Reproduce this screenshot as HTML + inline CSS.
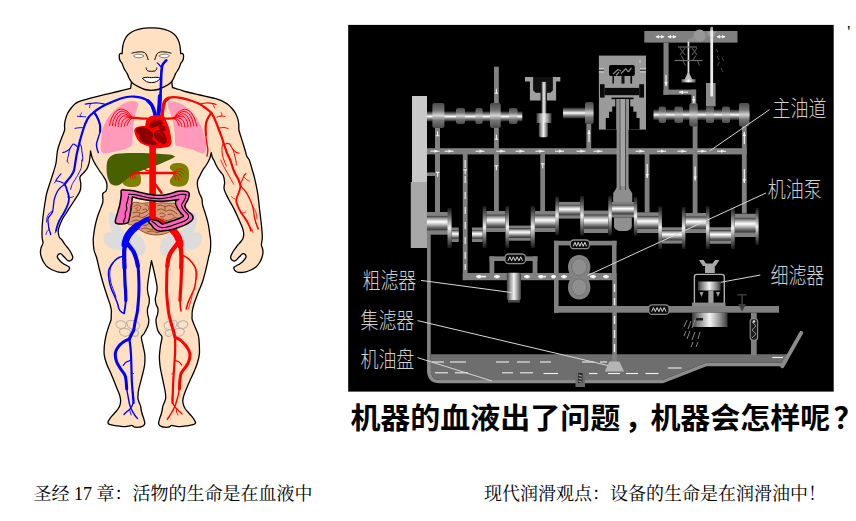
<!DOCTYPE html>
<html lang="zh"><head><meta charset="utf-8"><title>润滑</title>
<style>
html,body{margin:0;padding:0;background:#fff;overflow:hidden}
svg{display:block}
.t1{font-family:"Liberation Sans","Noto Sans CJK SC",sans-serif;font-weight:bold;font-size:30px;fill:#000}
.t2{font-family:"Liberation Serif","Noto Serif CJK SC",serif;font-size:18px;fill:#000}
.lb{font-family:"Liberation Sans","Noto Sans CJK SC",sans-serif;font-size:18px;fill:#d0d0d0;font-weight:300}
</style></head><body>
<svg width="856" height="521" viewBox="0 0 856 521">
<rect width="856" height="521" fill="#fff"/>
<g id="human">
<path d="M131.8,80.0C131.6,81.4 130.8,86.9 130.6,88.3C128.5,88.8 122.4,90.4 118.0,91.5C113.6,92.6 110.3,93.2 104.3,94.7C98.3,96.2 86.6,99.2 81.8,100.7C77.0,102.2 77.2,102.3 75.5,103.5C73.8,104.7 72.8,105.9 71.5,107.6C70.2,109.3 68.5,111.5 67.5,113.5C66.5,115.5 65.9,117.8 65.4,119.7C64.9,121.6 64.6,123.3 64.5,125.0C64.4,126.7 65.0,128.0 64.6,130.0C64.2,132.0 62.9,134.7 62.0,137.0C61.1,139.3 60.1,141.8 59.4,144.0C58.7,146.2 58.0,148.0 57.6,150.0C57.2,152.0 57.1,153.8 56.8,156.0C56.5,158.2 56.5,160.3 56.0,163.0C55.5,165.7 54.4,169.1 53.5,172.0C52.6,174.9 51.6,178.0 50.7,180.7C49.8,183.4 49.0,185.7 48.3,188.0C47.6,190.3 47.0,191.6 46.4,194.6C45.8,197.6 45.1,202.3 44.5,206.0C43.9,209.7 43.4,213.7 43.0,217.0C42.6,220.3 42.4,223.1 42.2,226.0C42.0,228.9 42.0,232.1 42.0,234.3C42.0,236.5 42.1,237.6 42.3,239.0C42.5,240.4 43.2,241.6 43.0,243.0C42.8,244.4 41.6,246.0 41.2,247.5C40.8,249.0 40.4,250.3 40.4,252.0C40.4,253.7 40.9,255.8 41.5,257.5C42.1,259.2 42.8,260.9 43.8,262.5C44.8,264.1 46.0,265.8 47.5,267.0C49.0,268.2 50.8,269.2 52.5,270.0C54.2,270.8 55.8,271.4 57.5,271.8C59.2,272.2 61.3,272.5 62.8,272.5C64.3,272.5 65.5,272.4 66.5,272.0C67.5,271.6 68.5,270.3 68.9,270.0C69.0,269.7 69.6,268.7 69.6,268.2C69.6,267.7 69.5,267.3 68.9,266.8C68.4,266.3 67.2,265.8 66.3,265.3C65.4,264.8 64.6,264.6 63.7,264.0C62.8,263.4 61.7,262.6 60.8,261.8C59.9,261.0 59.1,259.8 58.5,259.0C57.9,258.2 57.5,257.8 57.4,257.2C57.2,256.6 57.3,256.1 57.6,255.5C57.9,254.9 58.6,254.2 59.2,253.9C59.8,253.6 60.2,253.3 61.0,253.8C61.8,254.3 63.0,255.8 64.0,256.8C65.0,257.8 66.5,259.5 67.0,260.0C67.4,260.2 68.5,261.0 69.3,261.0C70.0,261.0 70.9,260.5 71.5,260.0C72.1,259.5 72.6,258.6 72.7,257.8C72.8,257.1 72.8,256.6 72.3,255.5C71.8,254.4 70.9,252.4 70.0,251.0C69.1,249.6 67.9,248.2 67.0,247.0C66.1,245.8 65.4,245.2 64.6,244.0C63.8,242.8 62.9,241.1 62.0,240.0C61.1,238.9 60.1,238.5 59.5,237.5C58.9,236.5 58.7,235.4 58.5,234.0C58.3,232.6 57.9,231.3 58.5,229.0C59.1,226.7 60.6,222.9 62.0,220.0C63.4,217.1 65.0,215.0 67.0,211.8C69.0,208.6 71.8,204.5 74.0,201.0C76.2,197.5 78.9,193.8 80.0,191.0C81.1,188.2 80.8,186.3 80.8,184.0C80.8,181.7 79.5,178.9 80.0,177.0C80.5,175.1 82.8,173.9 84.0,172.5C85.2,171.1 86.2,170.0 87.0,168.6C87.8,167.2 88.4,165.4 88.8,164.0C89.2,162.6 89.4,161.5 89.6,160.0C89.8,158.5 90.0,156.5 90.2,155.0C90.4,153.5 90.5,151.6 90.5,150.9C90.7,151.7 91.1,154.0 91.5,155.5C91.9,157.0 92.3,158.4 93.0,160.0C93.7,161.6 94.8,163.3 95.8,165.0C96.8,166.7 97.8,168.2 99.0,170.0C100.2,171.8 101.6,173.7 102.8,175.5C104.0,177.3 105.3,178.9 106.0,180.7C106.7,182.4 107.0,184.3 107.0,186.0C107.0,187.7 106.6,189.9 106.0,191.0C105.4,192.1 104.1,192.2 103.5,192.8C102.9,193.4 102.7,193.6 102.6,194.6C102.5,195.6 102.9,197.6 102.9,199.0C102.9,200.4 103.1,201.2 102.6,203.0C102.1,204.8 100.9,207.7 100.0,210.0C99.1,212.3 98.2,214.5 97.4,217.0C96.6,219.5 95.9,222.4 95.3,225.0C94.7,227.6 94.3,230.1 94.0,232.6C93.7,235.1 93.2,237.1 93.2,240.0C93.2,242.9 93.5,247.1 94.0,250.0C94.5,252.9 95.6,254.1 96.5,257.3C97.4,260.5 98.3,265.0 99.3,269.0C100.3,273.0 101.4,277.3 102.6,281.5C103.8,285.7 105.2,290.0 106.5,294.0C107.8,298.0 109.6,302.9 110.4,305.7C111.2,308.5 111.3,309.3 111.4,311.0C111.5,312.7 111.3,314.5 111.2,316.0C111.1,317.5 111.5,318.0 111.0,320.0C110.5,322.0 109.0,325.4 108.2,328.0C107.4,330.6 106.6,332.8 106.0,335.6C105.4,338.4 104.7,341.8 104.4,345.0C104.1,348.2 103.9,351.5 104.2,354.6C104.5,357.7 105.5,360.6 106.5,363.5C107.5,366.4 109.0,369.0 110.2,371.8C111.4,374.6 112.6,377.6 113.8,380.5C115.0,383.4 116.2,386.6 117.2,389.0C118.2,391.4 119.0,393.1 119.6,395.0C120.2,396.9 120.5,398.7 120.6,400.4C120.7,402.1 120.4,403.6 120.0,405.0C119.6,406.4 118.8,407.8 118.0,409.0C117.2,410.2 116.4,411.0 115.5,412.0C114.6,413.0 113.7,413.9 112.8,415.0C111.9,416.1 110.8,417.3 110.0,418.5C109.2,419.7 108.2,421.1 108.0,422.0C107.8,422.9 108.2,423.4 108.6,423.8C109.0,424.2 108.9,424.3 110.2,424.6C111.5,424.9 114.3,425.5 116.5,425.8C118.7,426.1 121.3,426.5 123.2,426.6C125.1,426.7 126.4,426.4 127.8,426.2C129.2,426.0 130.9,425.3 131.8,425.4C132.8,425.4 132.9,426.2 133.5,426.5C134.1,426.8 134.4,427.1 135.3,427.2C136.2,427.3 137.8,427.3 139.0,427.2C140.2,427.1 141.3,426.7 142.2,426.3C143.1,425.9 143.8,425.4 144.2,424.8C144.6,424.2 144.9,423.9 144.8,422.8C144.7,421.8 144.1,419.9 143.7,418.5C143.3,417.1 142.6,415.6 142.2,414.2C141.8,412.8 141.5,411.4 141.2,410.0C140.9,408.6 140.9,406.9 140.5,405.6C140.1,404.3 139.4,403.2 139.0,402.0C138.6,400.8 138.2,399.9 138.0,398.6C137.8,397.3 138.0,395.6 138.1,394.0C138.2,392.4 138.2,391.6 138.8,389.0C139.4,386.4 140.6,381.9 141.5,378.5C142.4,375.1 143.4,371.2 144.0,368.4C144.6,365.6 144.8,363.8 144.9,361.5C145.0,359.2 145.1,357.3 144.8,354.6C144.5,351.9 143.6,348.4 143.0,345.5C142.4,342.6 141.3,339.2 141.4,337.3C141.5,335.4 143.0,335.2 143.8,334.0C144.6,332.8 145.3,331.5 146.0,330.0C146.7,328.5 147.7,326.8 148.2,325.0C148.7,323.2 148.9,321.3 148.8,319.5C148.7,317.7 147.8,315.8 147.6,314.0C147.4,312.2 147.3,310.7 147.5,309.0C147.7,307.3 148.7,305.7 149.0,304.0C149.3,302.3 149.5,300.7 149.3,298.8C149.1,296.9 148.1,294.5 147.8,292.5C147.5,290.5 147.3,289.8 147.5,286.7C147.7,283.6 148.5,278.3 149.2,274.0C149.9,269.7 151.1,262.9 151.5,260.7C152.0,262.9 153.7,269.7 154.6,274.0C155.5,278.3 156.7,283.6 157.0,286.7C157.3,289.8 156.9,290.5 156.6,292.5C156.3,294.5 155.4,296.9 155.3,298.8C155.2,300.7 155.6,302.3 156.0,304.0C156.4,305.7 157.7,307.3 158.0,309.0C158.3,310.7 157.9,312.2 157.6,314.0C157.3,315.8 156.2,317.7 156.0,319.5C155.8,321.3 156.2,323.2 156.5,325.0C156.8,326.8 157.2,328.9 157.8,330.4C158.4,331.9 159.3,332.9 160.0,334.0C160.7,335.1 161.9,335.4 162.0,337.3C162.1,339.2 160.9,342.6 160.5,345.5C160.1,348.4 159.7,351.9 159.5,354.6C159.3,357.3 159.4,359.2 159.6,361.5C159.8,363.8 159.9,365.6 160.4,368.4C160.9,371.2 161.8,375.1 162.5,378.5C163.2,381.9 164.2,386.4 164.7,389.0C165.2,391.6 165.3,392.4 165.5,394.0C165.7,395.6 165.8,397.3 165.6,398.6C165.4,399.9 164.9,400.8 164.5,402.0C164.1,403.2 163.4,404.3 163.0,405.6C162.6,406.9 162.5,408.6 162.2,410.0C161.9,411.4 161.6,412.8 161.2,414.2C160.8,415.6 160.1,417.1 159.7,418.5C159.3,419.9 158.7,421.8 158.6,422.8C158.5,423.9 158.8,424.2 159.2,424.8C159.6,425.4 160.3,425.9 161.2,426.3C162.1,426.7 163.3,427.1 164.5,427.2C165.7,427.3 167.2,427.3 168.1,427.2C169.0,427.1 169.4,426.8 170.0,426.5C170.6,426.2 170.7,425.4 171.6,425.4C172.5,425.3 174.3,426.0 175.7,426.2C177.1,426.4 178.3,426.7 180.2,426.6C182.1,426.5 184.8,426.1 187.0,425.8C189.2,425.5 191.9,424.9 193.2,424.6C194.5,424.3 194.5,424.2 194.9,423.8C195.3,423.4 195.8,422.9 195.5,422.0C195.2,421.1 194.2,419.7 193.4,418.5C192.6,417.3 191.5,416.1 190.6,415.0C189.7,413.9 188.9,413.0 188.0,412.0C187.1,411.0 186.2,410.2 185.4,409.0C184.7,407.8 183.9,406.4 183.5,405.0C183.1,403.6 182.7,402.1 182.8,400.4C182.9,398.7 183.4,396.9 184.0,395.0C184.6,393.1 185.3,391.4 186.3,389.0C187.3,386.6 188.7,383.4 190.0,380.5C191.3,377.6 192.8,374.6 194.0,371.8C195.2,369.0 196.3,366.4 197.2,363.5C198.1,360.6 199.0,357.7 199.3,354.6C199.7,351.5 199.5,348.2 199.3,345.0C199.2,341.8 199.0,338.4 198.4,335.6C197.8,332.8 196.5,330.6 195.5,328.0C194.5,325.4 192.9,322.0 192.3,320.0C191.7,318.0 192.1,317.5 192.1,316.0C192.1,314.5 192.0,313.0 192.3,311.0C192.6,309.0 193.1,307.0 194.0,304.0C194.9,301.0 196.6,296.8 198.0,293.0C199.4,289.2 201.3,285.5 202.6,281.5C203.9,277.5 205.0,273.0 206.0,269.0C207.0,265.0 207.9,260.5 208.6,257.3C209.3,254.1 210.1,252.9 210.4,250.0C210.7,247.1 210.7,242.6 210.6,240.0C210.5,237.4 210.1,236.6 209.8,234.3C209.5,232.0 209.1,228.6 208.6,226.0C208.1,223.4 207.6,221.3 206.9,218.8C206.2,216.3 205.2,213.3 204.5,211.0C203.8,208.7 203.0,206.7 202.6,205.0C202.2,203.3 202.3,202.2 202.2,201.0C202.0,199.8 202.1,199.2 201.7,198.0C201.2,196.8 200.1,194.9 199.5,193.5C198.9,192.1 198.7,190.8 198.3,189.4C198.0,188.0 197.5,186.4 197.4,185.0C197.3,183.6 197.2,182.3 197.6,180.7C198.0,179.1 199.2,177.2 200.0,175.5C200.8,173.8 201.6,172.1 202.6,170.4C203.6,168.7 205.0,167.1 206.0,165.5C207.0,163.9 207.9,162.4 208.6,161.0C209.3,159.6 209.8,158.4 210.2,157.0C210.6,155.6 211.0,153.3 211.2,152.6C211.4,153.3 211.8,155.8 212.2,157.0C212.6,158.2 213.2,158.8 213.8,160.0C214.4,161.2 215.1,163.1 215.8,164.5C216.5,165.9 217.3,167.3 218.1,168.6C218.9,169.8 219.7,170.8 220.6,172.0C221.5,173.2 222.6,173.9 223.3,175.6C224.0,177.3 224.4,179.7 224.6,182.0C224.8,184.3 223.5,186.6 224.2,189.4C224.8,192.2 226.9,195.8 228.5,199.0C230.1,202.2 232.1,205.2 233.7,208.4C235.3,211.6 236.8,214.8 238.2,218.0C239.6,221.2 241.4,225.0 242.3,227.4C243.2,229.8 243.4,230.8 243.6,232.5C243.8,234.2 243.6,236.3 243.2,237.8C242.8,239.3 241.9,240.3 241.0,241.5C240.1,242.7 238.8,243.8 238.0,244.7C237.2,245.6 237.2,245.9 236.4,247.0C235.6,248.1 234.3,249.6 233.4,251.0C232.5,252.4 231.6,254.4 231.1,255.5C230.6,256.6 230.6,257.1 230.7,257.8C230.8,258.6 231.3,259.5 231.9,260.0C232.5,260.5 233.3,261.0 234.1,261.0C234.8,261.0 236.0,260.2 236.4,260.0C236.9,259.5 238.4,257.8 239.4,256.8C240.4,255.8 241.6,254.3 242.4,253.8C243.2,253.3 243.6,253.6 244.2,253.9C244.8,254.2 245.5,254.9 245.8,255.5C246.1,256.1 246.2,256.6 246.0,257.2C245.8,257.8 245.5,258.2 244.9,259.0C244.3,259.8 243.5,261.0 242.6,261.8C241.7,262.6 240.6,263.4 239.7,264.0C238.8,264.6 238.0,264.8 237.1,265.3C236.2,265.8 235.1,266.3 234.5,266.8C233.9,267.3 233.8,267.7 233.8,268.2C233.8,268.7 234.4,269.7 234.5,270.0C234.9,270.3 235.9,271.6 236.9,272.0C237.9,272.4 239.1,272.5 240.6,272.5C242.1,272.5 244.2,272.2 245.9,271.8C247.6,271.4 249.2,270.8 250.9,270.0C252.6,269.2 254.4,268.2 255.9,267.0C257.4,265.8 258.6,264.1 259.6,262.5C260.6,260.9 261.3,259.2 261.9,257.5C262.5,255.8 262.9,253.7 263.0,252.0C263.1,250.3 262.5,248.7 262.2,247.5C261.9,246.3 261.4,246.1 261.4,244.7C261.4,243.3 262.1,240.7 262.2,239.0C262.3,237.3 262.3,236.5 262.2,234.3C262.1,232.1 261.8,228.9 261.5,226.0C261.2,223.1 260.9,220.3 260.5,217.0C260.1,213.7 259.6,209.7 259.2,206.0C258.8,202.3 258.4,197.9 257.9,194.6C257.4,191.3 256.9,188.9 256.3,186.0C255.7,183.1 255.1,180.1 254.4,177.3C253.7,174.5 252.8,171.9 252.0,169.0C251.2,166.1 250.0,161.8 249.3,160.0C248.6,158.2 248.2,158.7 247.8,158.0C247.4,157.3 247.2,157.3 246.7,156.0C246.2,154.7 245.6,152.0 245.0,150.0C244.4,148.0 243.9,146.2 243.2,144.0C242.5,141.8 241.7,139.3 241.0,137.0C240.3,134.7 239.3,132.0 238.9,130.0C238.5,128.0 239.0,126.7 238.8,125.0C238.7,123.3 238.5,121.6 238.0,119.7C237.5,117.8 236.6,115.4 235.6,113.5C234.6,111.6 233.3,110.0 232.0,108.5C230.7,107.0 229.4,105.7 228.0,104.5C226.6,103.3 225.0,102.5 223.3,101.6C221.6,100.7 219.7,99.9 218.0,99.3C216.3,98.7 216.0,98.7 213.0,98.0C210.0,97.3 204.3,96.0 200.0,95.0C195.7,94.0 190.5,92.9 187.0,92.0C183.5,91.1 181.4,90.2 179.0,89.5C176.6,88.8 173.6,87.8 172.5,87.5C172.3,86.2 171.8,81.2 171.6,80.0Z" fill="#FFE0C0" stroke="#000" stroke-width="1.3" stroke-linejoin="round"/>
<path d="M151.4,27.8C152.8,27.9 157.2,27.9 160.0,28.3C162.8,28.8 165.6,29.5 168.0,30.5C170.4,31.5 172.8,33.0 174.5,34.5C176.2,36.0 177.1,37.6 178.0,39.5C178.9,41.4 179.6,43.6 180.0,46.0C180.4,48.4 180.6,52.4 180.7,53.7C181.0,53.7 182.1,53.2 182.6,53.6C183.1,54.0 183.6,55.1 183.6,56.3C183.6,57.4 183.3,59.3 182.8,60.5C182.3,61.7 181.0,62.9 180.7,63.4C180.4,64.2 179.7,66.8 178.8,68.5C178.0,70.2 176.5,71.9 175.6,73.6C174.7,75.3 174.3,77.2 173.4,78.8C172.5,80.4 171.9,81.7 170.4,83.0C168.9,84.3 166.6,85.6 164.5,86.7C162.4,87.8 160.2,88.9 158.0,89.5C155.8,90.1 153.6,90.3 151.4,90.3C149.2,90.3 147.0,90.1 144.8,89.5C142.6,88.9 140.4,87.8 138.3,86.7C136.2,85.6 133.9,84.3 132.4,83.0C130.9,81.7 130.3,80.4 129.4,78.8C128.5,77.2 128.1,75.3 127.2,73.6C126.3,71.9 124.8,70.2 124.0,68.5C123.2,66.8 122.4,64.2 122.1,63.4C121.8,62.9 120.5,61.7 120.0,60.5C119.5,59.3 119.2,57.4 119.2,56.3C119.2,55.1 119.7,54.0 120.2,53.6C120.7,53.2 121.8,53.7 122.1,53.7C122.2,52.4 122.3,48.4 122.8,46.0C123.2,43.6 123.9,41.4 124.8,39.5C125.7,37.6 126.6,36.0 128.3,34.5C130.0,33.0 132.4,31.5 134.8,30.5C137.2,29.5 140.0,28.8 142.8,28.3C145.6,27.9 150.0,27.9 151.4,27.8Z" fill="#FFE0C0" stroke="#000" stroke-width="1.3" stroke-linejoin="round"/>
<path d="M131.5,53.3C132.2,53.1 134.0,52.5 135.5,52.3C137.0,52.0 139.0,51.8 140.5,51.8C142.0,51.8 143.5,52.1 144.5,52.6C145.5,53.1 145.9,53.8 146.5,55.0C147.1,56.2 148.0,59.2 148.3,60.0" fill="none" stroke="#000" stroke-width="1"/>
<path d="M133.5,55.8C133.5,55.3 135.3,54.5 136.5,54.3C137.7,54.1 139.2,54.1 140.5,54.4C141.8,54.7 144.0,55.5 144.0,56.0C144.0,56.5 141.8,57.4 140.5,57.6C139.2,57.9 137.7,57.8 136.5,57.5C135.3,57.2 133.5,56.3 133.5,55.8Z" fill="#fff" stroke="#444" stroke-width="0.7"/>
<path d="M171.5,53.3C170.8,53.1 169.0,52.5 167.5,52.3C166.0,52.0 164.0,51.8 162.5,51.8C161.0,51.8 159.5,52.1 158.5,52.6C157.5,53.1 157.1,53.8 156.5,55.0C155.9,56.2 155.0,59.2 154.7,60.0" fill="none" stroke="#000" stroke-width="1"/>
<path d="M169.5,55.8C169.5,55.3 167.7,54.5 166.5,54.3C165.3,54.1 163.8,54.1 162.5,54.4C161.2,54.7 159.0,55.5 159.0,56.0C159.0,56.5 161.2,57.4 162.5,57.6C163.8,57.9 165.3,57.8 166.5,57.5C167.7,57.2 169.5,56.3 169.5,55.8Z" fill="#fff" stroke="#444" stroke-width="0.7"/>
<path d="M146.3,67.5C146,70.5 147.5,71.3 151.5,71.3C155.5,71.3 157,70.5 156.7,67.5" fill="none" stroke="#000" stroke-width="1"/>
<path d="M142.5,78.2C146,76.6 149,77.6 151.5,77.6C154,77.6 157.5,76.6 160.5,78.2C158,81.5 155,82.6 151.5,82.6C148,82.6 145,81.5 142.5,78.2Z" fill="#fff" stroke="#000" stroke-width="1"/>
<path d="M109.5,213.0C110.0,211.7 111.1,211.8 112.0,212.0C112.9,212.2 114.2,212.8 115.0,214.0C115.8,215.2 116.2,217.2 117.0,219.0C117.8,220.8 118.5,223.2 119.5,225.0C120.5,226.8 121.6,228.5 123.0,230.0C124.4,231.5 126.3,232.8 128.0,234.0C129.7,235.2 132.1,235.8 133.0,237.0C133.9,238.2 134.3,239.5 133.5,241.0C132.7,242.5 129.9,244.9 128.0,246.0C126.1,247.1 123.5,248.0 122.0,247.5C120.5,247.0 120.3,244.9 119.0,243.0C117.7,241.1 115.4,238.5 114.0,236.0C112.6,233.5 111.4,230.7 110.5,228.0C109.6,225.3 108.9,222.5 108.7,220.0C108.5,217.5 109.0,214.3 109.5,213.0Z" fill="#DCDCDC" stroke="none" stroke-width="0" stroke-linecap="round" stroke-linejoin="round" />
<path d="M196.1,213.0C195.6,211.7 194.5,211.8 193.6,212.0C192.7,212.2 191.4,212.8 190.6,214.0C189.8,215.2 189.4,217.2 188.6,219.0C187.9,220.8 187.1,223.2 186.1,225.0C185.1,226.8 184.0,228.5 182.6,230.0C181.2,231.5 179.3,232.8 177.6,234.0C175.9,235.2 173.5,235.8 172.6,237.0C171.7,238.2 171.3,239.5 172.1,241.0C172.9,242.5 175.7,244.9 177.6,246.0C179.5,247.1 182.1,248.0 183.6,247.5C185.1,247.0 185.3,244.9 186.6,243.0C187.9,241.1 190.2,238.5 191.6,236.0C193.0,233.5 194.2,230.7 195.1,228.0C196.0,225.3 196.7,222.5 196.9,220.0C197.1,217.5 196.7,214.3 196.1,213.0Z" fill="#DCDCDC" stroke="none" stroke-width="0" stroke-linecap="round" stroke-linejoin="round" />
<path d="M103.5,236.0C103.7,234.2 104.8,233.6 106.0,233.0C107.2,232.4 109.2,232.2 111.0,232.5C112.8,232.8 115.2,233.8 117.0,235.0C118.8,236.2 120.7,238.2 122.0,240.0C123.3,241.8 124.8,244.4 125.0,246.0C125.2,247.6 124.3,248.8 123.0,249.5C121.7,250.2 119.2,250.2 117.0,250.0C114.8,249.8 112.0,249.1 110.0,248.0C108.0,246.9 106.1,245.5 105.0,243.5C103.9,241.5 103.3,237.8 103.5,236.0Z" fill="#DCDCDC" stroke="none" stroke-width="0" stroke-linecap="round" stroke-linejoin="round" />
<path d="M202.1,236.0C201.9,234.2 200.9,233.6 199.6,233.0C198.4,232.4 196.4,232.2 194.6,232.5C192.8,232.8 190.4,233.8 188.6,235.0C186.8,236.2 184.9,238.2 183.6,240.0C182.3,241.8 180.8,244.4 180.6,246.0C180.4,247.6 181.3,248.8 182.6,249.5C183.9,250.2 186.4,250.2 188.6,250.0C190.8,249.8 193.6,249.1 195.6,248.0C197.6,246.9 199.5,245.5 200.6,243.5C201.7,241.5 202.3,237.8 202.1,236.0Z" fill="#DCDCDC" stroke="none" stroke-width="0" stroke-linecap="round" stroke-linejoin="round" />
<path d="M130.0,236.0C130.7,234.4 132.5,233.8 134.0,233.6C135.5,233.4 137.5,234.0 139.0,235.0C140.5,236.0 141.9,237.7 143.0,239.5C144.1,241.3 145.2,243.9 145.5,246.0C145.8,248.1 145.7,250.4 145.0,252.0C144.3,253.6 142.9,255.2 141.5,255.5C140.1,255.8 138.0,255.1 136.5,254.0C135.0,252.9 133.6,250.8 132.5,249.0C131.4,247.2 130.4,245.2 130.0,243.0C129.6,240.8 129.3,237.6 130.0,236.0Z" fill="#DCDCDC" stroke="none" stroke-width="0" stroke-linecap="round" stroke-linejoin="round" />
<path d="M175.6,236.0C174.9,234.4 173.1,233.8 171.6,233.6C170.1,233.4 168.1,234.0 166.6,235.0C165.1,236.0 163.7,237.7 162.6,239.5C161.5,241.3 160.4,243.9 160.1,246.0C159.8,248.1 159.9,250.4 160.6,252.0C161.3,253.6 162.7,255.2 164.1,255.5C165.5,255.8 167.6,255.1 169.1,254.0C170.6,252.9 172.0,250.8 173.1,249.0C174.2,247.2 175.2,245.2 175.6,243.0C176.0,240.8 176.3,237.6 175.6,236.0Z" fill="#DCDCDC" stroke="none" stroke-width="0" stroke-linecap="round" stroke-linejoin="round" />
<path d="M130.4,101.3C131.8,101.0 132.8,101.1 134.0,101.3C135.2,101.5 136.6,101.8 137.3,102.5C138.0,103.2 138.2,103.8 138.0,105.4C137.8,107.0 136.4,109.9 135.8,112.0C135.2,114.1 135.1,115.1 134.6,118.0C134.1,120.9 133.4,125.3 133.0,129.5C132.6,133.7 132.6,140.4 132.0,143.3C131.4,146.2 130.9,146.0 129.5,147.0C128.1,148.0 126.0,148.7 123.3,149.5C120.5,150.3 116.2,151.3 113.0,152.0C109.8,152.7 106.2,153.6 104.3,153.5C102.4,153.4 102.1,152.6 101.5,151.5C100.9,150.4 100.6,148.9 100.6,147.0C100.5,145.1 101.0,142.2 101.2,140.0C101.4,137.8 101.2,136.1 101.7,133.6C102.2,131.1 103.0,127.6 104.0,125.0C105.0,122.4 106.3,120.2 107.8,118.0C109.3,115.8 111.0,113.5 113.0,111.5C115.0,109.5 117.8,107.5 119.9,106.0C122.0,104.5 123.8,103.6 125.5,102.8C127.2,102.0 129.0,101.5 130.4,101.3Z" fill="#FF9ABB" stroke="none" stroke-width="0" stroke-linecap="round" stroke-linejoin="round" />
<path d="M168.3,102.0C169.0,101.2 170.8,101.2 172.0,101.2C173.2,101.2 174.2,101.5 175.8,102.0C177.4,102.5 179.8,103.1 181.8,104.2C183.8,105.3 186.0,106.8 188.0,108.5C190.0,110.2 192.2,112.3 194.0,114.6C195.8,116.8 197.6,119.4 199.0,122.0C200.4,124.6 201.6,127.3 202.6,130.0C203.6,132.7 204.4,135.4 205.0,138.0C205.6,140.6 206.0,143.6 206.2,145.7C206.4,147.8 206.4,149.2 206.0,150.5C205.6,151.8 204.6,153.2 203.5,153.5C202.4,153.8 200.8,152.9 199.5,152.5C198.2,152.1 197.4,151.5 195.7,150.9C193.9,150.3 191.4,149.5 189.0,148.8C186.6,148.1 182.9,147.3 181.0,146.8C179.1,146.3 178.4,146.4 177.5,146.0C176.6,145.6 175.7,145.7 175.3,144.5C174.9,143.3 175.1,140.9 175.0,139.0C174.9,137.1 174.8,135.5 174.6,133.0C174.4,130.5 174.1,126.7 173.6,124.0C173.1,121.3 172.2,119.2 171.5,117.0C170.8,114.8 170.2,112.8 169.6,111.0C169.0,109.2 168.1,107.5 167.9,106.0C167.7,104.5 167.6,102.8 168.3,102.0Z" fill="#FF9ABB" stroke="none" stroke-width="0" stroke-linecap="round" stroke-linejoin="round" />
<path d="M132.7,203.0C133.6,201.9 135.4,202.3 137.0,202.4C138.6,202.5 140.2,203.3 142.0,203.4C143.8,203.5 145.8,202.8 148.0,202.8C150.2,202.8 152.7,203.5 155.0,203.5C157.3,203.5 159.7,202.8 162.0,202.8C164.3,202.8 166.8,203.2 169.0,203.3C171.2,203.4 173.7,202.9 175.4,203.5C177.1,204.1 178.1,205.4 179.0,207.0C179.9,208.6 180.8,210.8 181.0,213.0C181.2,215.2 181.3,217.8 180.5,220.0C179.7,222.2 177.9,224.0 176.0,226.0C174.1,228.0 171.2,230.6 169.0,232.0C166.8,233.4 164.8,233.7 162.8,234.2C160.8,234.7 158.8,234.8 157.0,234.9C155.2,235.0 154.0,234.9 152.2,234.6C150.3,234.3 147.9,233.8 145.9,233.0C143.9,232.2 141.6,231.0 140.0,230.0C138.4,229.0 137.8,228.0 136.4,227.2C135.0,226.4 132.9,225.6 131.5,225.0C130.1,224.4 128.2,225.0 128.0,223.5C127.8,222.0 129.4,218.4 130.0,216.0C130.6,213.6 131.1,211.2 131.5,209.0C131.9,206.8 131.8,204.1 132.7,203.0Z" fill="#D99A7C" stroke="#8B4513" stroke-width="0.9" stroke-linecap="round" stroke-linejoin="round" />
<path d="M134.0,206.5C134.6,206.2 136.4,205.0 137.5,205.0C138.6,205.0 140.1,205.8 140.5,206.5C140.9,207.2 140.6,208.8 140.0,209.5C139.4,210.2 137.7,210.7 137.0,210.5C136.3,210.3 135.9,209.0 136.0,208.5C136.1,208.0 137.5,207.7 137.8,207.5" fill="none" stroke="#8B4513" stroke-width="0.9" stroke-linecap="round" stroke-linejoin="round" />
<path d="M133.0,213.0C133.7,212.8 135.7,211.9 137.0,212.0C138.3,212.1 139.7,213.5 141.0,213.5C142.3,213.5 143.8,212.7 145.0,212.0C146.2,211.3 147.9,210.5 148.5,209.5C149.1,208.5 149.1,206.8 148.5,206.0C147.9,205.2 145.6,205.2 145.0,205.0" fill="none" stroke="#8B4513" stroke-width="0.9" stroke-linecap="round" stroke-linejoin="round" />
<path d="M132.5,217.5C133.2,217.2 135.5,216.0 137.0,216.0C138.5,216.0 140.0,217.5 141.5,217.5C143.0,217.5 144.8,216.7 146.0,216.0C147.2,215.3 148.5,213.9 149.0,213.5" fill="none" stroke="#8B4513" stroke-width="0.9" stroke-linecap="round" stroke-linejoin="round" />
<path d="M132.0,221.5C132.7,221.2 134.6,220.0 136.0,220.0C137.4,220.0 139.0,221.5 140.5,221.5C142.0,221.5 143.7,220.7 145.0,220.0C146.3,219.3 147.9,217.9 148.5,217.5" fill="none" stroke="#8B4513" stroke-width="0.9" stroke-linecap="round" stroke-linejoin="round" />
<path d="M136.0,225.0C136.8,224.8 139.0,223.9 140.5,224.0C142.0,224.1 143.6,225.6 145.0,225.5C146.4,225.4 148.2,224.2 149.0,223.5C149.8,222.8 149.4,221.4 149.5,221.0" fill="none" stroke="#8B4513" stroke-width="0.9" stroke-linecap="round" stroke-linejoin="round" />
<path d="M141.5,229.0C142.2,228.8 144.5,227.9 146.0,228.0C147.5,228.1 149.0,229.4 150.5,229.5C152.0,229.6 154.2,228.7 155.0,228.5" fill="none" stroke="#8B4513" stroke-width="0.9" stroke-linecap="round" stroke-linejoin="round" />
<path d="M147.0,232.0C147.8,231.8 150.3,230.9 152.0,231.0C153.7,231.1 155.3,232.5 157.0,232.5C158.7,232.5 161.2,231.2 162.0,231.0" fill="none" stroke="#8B4513" stroke-width="0.9" stroke-linecap="round" stroke-linejoin="round" />
<path d="M143.0,209.5C143.5,209.4 145.3,208.8 146.0,209.0C146.7,209.2 146.8,210.7 147.0,211.0" fill="none" stroke="#8B4513" stroke-width="0.9" stroke-linecap="round" stroke-linejoin="round" />
<path d="M157.5,206.0C158.1,205.8 159.8,204.9 161.0,205.0C162.2,205.1 163.7,206.4 165.0,206.5C166.3,206.6 167.7,205.5 169.0,205.5C170.3,205.5 171.8,205.9 173.0,206.5C174.2,207.1 175.9,208.6 176.5,209.0" fill="none" stroke="#8B4513" stroke-width="0.9" stroke-linecap="round" stroke-linejoin="round" />
<path d="M157.5,210.0C158.2,209.8 160.2,208.8 161.5,209.0C162.8,209.2 164.1,210.8 165.5,211.0C166.9,211.2 168.6,209.9 170.0,210.0C171.4,210.1 172.8,210.8 174.0,211.5C175.2,212.2 176.5,213.6 177.0,214.0" fill="none" stroke="#8B4513" stroke-width="0.9" stroke-linecap="round" stroke-linejoin="round" />
<path d="M160.0,213.5C160.5,213.4 162.2,212.8 163.0,213.0C163.8,213.2 164.9,214.3 165.0,215.0C165.1,215.7 164.2,216.8 163.5,217.0C162.8,217.2 161.0,216.6 160.5,216.5" fill="none" stroke="#8B4513" stroke-width="0.9" stroke-linecap="round" stroke-linejoin="round" />
<path d="M157.5,219.5C158.2,219.4 160.5,218.8 162.0,219.0C163.5,219.2 165.0,220.4 166.5,220.5C168.0,220.6 169.6,220.0 171.0,219.5C172.4,219.0 173.9,217.7 175.0,217.5C176.1,217.3 177.1,218.3 177.5,218.5" fill="none" stroke="#8B4513" stroke-width="0.9" stroke-linecap="round" stroke-linejoin="round" />
<path d="M158.0,223.5C158.8,223.4 161.0,222.8 162.5,223.0C164.0,223.2 165.5,224.4 167.0,224.5C168.5,224.6 170.2,223.9 171.5,223.5C172.8,223.1 174.0,222.2 174.5,222.0" fill="none" stroke="#8B4513" stroke-width="0.9" stroke-linecap="round" stroke-linejoin="round" />
<path d="M158.5,227.5C159.2,227.4 161.6,226.8 163.0,227.0C164.4,227.2 165.8,228.4 167.0,228.5C168.2,228.6 169.9,227.7 170.5,227.5" fill="none" stroke="#8B4513" stroke-width="0.9" stroke-linecap="round" stroke-linejoin="round" />
<path d="M168.0,214.5C168.7,214.4 171.0,213.8 172.0,214.0C173.0,214.2 173.7,215.7 174.0,216.0" fill="none" stroke="#8B4513" stroke-width="0.9" stroke-linecap="round" stroke-linejoin="round" />
<path d="M139.5,213.8C139.4,214.2 139.1,216.1 139.0,216.5" fill="none" stroke="#8B4513" stroke-width="0.9" stroke-linecap="round" stroke-linejoin="round" />
<path d="M144.5,220.3C144.4,220.8 144.1,223.0 144.0,223.5" fill="none" stroke="#8B4513" stroke-width="0.9" stroke-linecap="round" stroke-linejoin="round" />
<path d="M165.0,206.5C165.0,207.0 165.0,209.0 165.0,209.5" fill="none" stroke="#8B4513" stroke-width="0.9" stroke-linecap="round" stroke-linejoin="round" />
<path d="M166.5,220.5C166.6,221.1 166.9,223.4 167.0,224.0" fill="none" stroke="#8B4513" stroke-width="0.9" stroke-linecap="round" stroke-linejoin="round" />
<path d="M124.0,176.0C125.1,174.8 127.2,173.2 129.0,172.5C130.8,171.8 133.2,171.8 135.0,172.0C136.8,172.2 138.6,172.9 139.6,174.0C140.6,175.1 140.9,176.9 141.0,178.5C141.1,180.1 141.0,182.2 140.4,183.5C139.8,184.8 139.0,185.7 137.5,186.3C136.0,186.9 133.4,187.1 131.5,187.0C129.6,186.9 127.5,186.6 126.0,186.0C124.5,185.4 123.4,184.5 122.8,183.5C122.2,182.5 122.3,181.2 122.5,180.0C122.7,178.8 122.9,177.2 124.0,176.0Z" fill="#808000" stroke="none" stroke-width="0" stroke-linecap="round" stroke-linejoin="round" />
<path d="M170.0,166.5C170.4,165.7 171.2,164.6 172.5,164.0C173.8,163.4 176.1,163.0 178.0,163.0C179.9,163.0 182.4,163.2 184.0,164.0C185.6,164.8 187.0,166.0 187.8,167.5C188.6,169.0 188.9,170.9 189.0,173.0C189.1,175.1 189.0,178.1 188.5,180.0C188.0,181.9 187.2,183.4 186.0,184.5C184.8,185.6 182.8,186.2 181.0,186.5C179.2,186.8 176.7,186.6 175.0,186.3C173.3,186.0 171.9,185.4 171.0,184.5C170.1,183.6 169.7,182.2 169.8,181.0C169.9,179.8 170.9,178.6 171.5,177.5C172.1,176.4 173.4,175.6 173.5,174.5C173.6,173.4 172.9,171.9 172.3,171.0C171.8,170.1 170.6,169.8 170.2,169.0C169.8,168.2 169.6,167.3 170.0,166.5Z" fill="#808000" stroke="none" stroke-width="0" stroke-linecap="round" stroke-linejoin="round" />
<path d="M106.6,166.9C106.7,165.2 106.8,163.0 107.2,161.5C107.6,160.0 108.3,158.9 109.1,157.9C109.9,156.9 110.9,156.2 112.0,155.5C113.1,154.8 113.6,154.4 115.6,154.0C117.6,153.6 121.0,153.5 124.0,153.3C127.0,153.1 130.4,153.0 133.6,153.0C136.8,153.0 139.8,153.0 143.0,153.1C146.2,153.2 149.6,153.3 152.8,153.4C156.0,153.5 159.2,153.7 162.0,153.9C164.8,154.1 167.8,154.3 169.6,154.6C171.4,154.8 172.1,155.1 173.0,155.4C173.9,155.7 175.0,156.1 174.9,156.6C174.8,157.1 174.0,157.5 172.5,158.3C171.0,159.1 168.2,160.3 166.0,161.3C163.8,162.3 161.6,163.4 159.3,164.3C157.1,165.2 154.7,165.9 152.5,166.7C150.3,167.4 148.2,168.1 146.4,168.8C144.6,169.5 143.0,170.1 141.5,170.7C140.0,171.3 138.8,171.8 137.4,172.6C136.0,173.3 134.3,174.3 132.8,175.2C131.3,176.1 129.7,176.9 128.4,177.8C127.1,178.7 126.1,179.5 125.0,180.4C123.9,181.3 122.9,182.3 122.0,183.0C121.1,183.7 120.3,184.4 119.5,184.8C118.7,185.2 117.9,185.4 116.9,185.5C115.9,185.6 114.6,185.5 113.5,185.2C112.4,184.9 111.2,184.5 110.4,183.6C109.6,182.7 109.0,181.3 108.5,180.0C108.0,178.7 107.5,177.2 107.2,175.8C106.9,174.4 106.8,173.0 106.7,171.5C106.6,170.0 106.5,168.6 106.6,166.9Z" fill="#486000" stroke="none" stroke-width="0" stroke-linecap="round" stroke-linejoin="round" />
<path d="M117.0,322.0C117.8,321.3 119.7,320.7 121.0,320.8C122.3,320.9 124.2,321.6 125.0,322.5C125.8,323.4 126.0,325.5 125.5,326.5C125.0,327.5 123.2,328.3 122.0,328.5C120.8,328.7 119.0,328.1 118.0,327.5C117.0,326.9 116.2,325.9 116.0,325.0C115.8,324.1 116.2,322.7 117.0,322.0Z" fill="none" stroke="#B4B4B4" stroke-width="1.1" stroke-linecap="round" stroke-linejoin="round" />
<path d="M127.0,321.5C127.7,320.6 130.0,320.5 131.5,320.5C133.0,320.5 134.7,320.9 136.0,321.5C137.3,322.1 139.0,322.9 139.5,324.0C140.0,325.1 139.8,327.1 139.0,328.0C138.2,328.9 136.4,329.4 135.0,329.5C133.6,329.6 131.8,329.1 130.5,328.5C129.2,327.9 128.1,327.2 127.5,326.0C126.9,324.8 126.3,322.4 127.0,321.5Z" fill="none" stroke="#B4B4B4" stroke-width="1.1" stroke-linecap="round" stroke-linejoin="round" />
<path d="M120.5,329.5C121.4,328.9 123.5,328.4 125.0,328.5C126.5,328.6 128.7,329.1 129.5,330.0C130.3,330.9 130.6,332.9 130.0,334.0C129.4,335.1 127.4,336.1 126.0,336.3C124.6,336.5 122.6,335.7 121.5,335.0C120.4,334.3 119.7,332.9 119.5,332.0C119.3,331.1 119.6,330.1 120.5,329.5Z" fill="none" stroke="#B4B4B4" stroke-width="1.1" stroke-linecap="round" stroke-linejoin="round" />
<path d="M131.5,330.5C132.2,329.8 134.3,329.8 135.5,330.0C136.7,330.2 138.2,331.1 138.5,332.0C138.8,332.9 138.3,334.8 137.5,335.5C136.7,336.2 134.6,336.4 133.5,336.2C132.4,335.9 131.3,334.9 131.0,334.0C130.7,333.1 130.8,331.2 131.5,330.5Z" fill="none" stroke="#B4B4B4" stroke-width="1.1" stroke-linecap="round" stroke-linejoin="round" />
<path d="M186.8,322.0C186.0,321.3 184.1,320.7 182.8,320.8C181.5,320.9 179.6,321.6 178.8,322.5C178.1,323.4 177.8,325.5 178.3,326.5C178.8,327.5 180.6,328.3 181.8,328.5C183.1,328.7 184.8,328.1 185.8,327.5C186.8,326.9 187.6,325.9 187.8,325.0C188.0,324.1 187.6,322.7 186.8,322.0Z" fill="none" stroke="#B4B4B4" stroke-width="1.1" stroke-linecap="round" stroke-linejoin="round" />
<path d="M176.8,321.5C176.1,320.6 173.8,320.5 172.3,320.5C170.8,320.5 169.1,320.9 167.8,321.5C166.5,322.1 164.8,322.9 164.3,324.0C163.8,325.1 164.1,327.1 164.8,328.0C165.6,328.9 167.4,329.4 168.8,329.5C170.2,329.6 172.1,329.1 173.3,328.5C174.6,327.9 175.7,327.2 176.3,326.0C176.9,324.8 177.5,322.4 176.8,321.5Z" fill="none" stroke="#B4B4B4" stroke-width="1.1" stroke-linecap="round" stroke-linejoin="round" />
<path d="M183.3,329.5C182.4,328.9 180.3,328.4 178.8,328.5C177.3,328.6 175.1,329.1 174.3,330.0C173.5,330.9 173.2,332.9 173.8,334.0C174.4,335.1 176.4,336.1 177.8,336.3C179.2,336.5 181.2,335.7 182.3,335.0C183.4,334.3 184.1,332.9 184.3,332.0C184.5,331.1 184.2,330.1 183.3,329.5Z" fill="none" stroke="#B4B4B4" stroke-width="1.1" stroke-linecap="round" stroke-linejoin="round" />
<path d="M172.3,330.5C171.6,329.8 169.5,329.8 168.3,330.0C167.1,330.2 165.6,331.1 165.3,332.0C165.0,332.9 165.5,334.8 166.3,335.5C167.1,336.2 169.2,336.4 170.3,336.2C171.4,335.9 172.5,334.9 172.8,334.0C173.1,333.1 173.1,331.2 172.3,330.5Z" fill="none" stroke="#B4B4B4" stroke-width="1.1" stroke-linecap="round" stroke-linejoin="round" />
<path d="M166.2,60.4C165.8,60.8 164.7,61.9 164.0,62.8C163.3,63.7 162.6,64.5 162.2,66.0C161.8,67.5 161.6,69.7 161.4,72.0C161.2,74.3 161.2,77.2 161.1,80.0C161.0,82.8 161.0,85.7 160.8,89.0C160.7,92.3 160.4,96.8 160.2,100.0C160.0,103.2 159.7,105.2 159.4,108.0C159.1,110.8 158.5,115.1 158.3,116.5" fill="none" stroke="#0000FF" stroke-width="2.6" stroke-linecap="round" stroke-linejoin="round" />
<path d="M166.8,59.8C166.5,60.1 165.6,60.7 165.0,61.5C164.4,62.3 163.3,64.0 163.0,64.5" fill="none" stroke="#0000FF" stroke-width="1.2" stroke-linecap="round" stroke-linejoin="round" />
<path d="M157.2,62.8C157.5,63.1 158.3,63.7 159.0,64.5C159.7,65.3 161.2,67.0 161.6,67.5" fill="none" stroke="#0000FF" stroke-width="1.2" stroke-linecap="round" stroke-linejoin="round" />
<path d="M159.9,96.0C159.8,97.7 159.6,102.6 159.3,106.0C159.0,109.4 158.4,114.8 158.2,116.5" fill="none" stroke="#0000FF" stroke-width="4" stroke-linecap="round" stroke-linejoin="round" />
<path d="M155.0,116.0C154.8,115.0 154.2,111.9 153.6,110.0C153.0,108.1 152.3,106.0 151.4,104.5C150.5,103.0 149.6,101.9 148.0,100.8C146.4,99.7 144.2,98.6 141.9,97.9C139.6,97.2 136.5,96.8 134.0,96.6C131.5,96.4 129.1,96.6 126.8,97.0C124.5,97.4 122.3,98.0 120.0,98.8C117.7,99.6 115.3,100.6 113.0,101.6C110.7,102.6 108.3,103.4 106.0,104.6C103.7,105.8 101.1,107.2 99.0,108.5C96.9,109.8 95.2,111.1 93.5,112.5C91.8,113.9 90.1,115.3 88.8,117.0C87.5,118.7 86.7,120.6 85.8,122.5C84.9,124.4 84.3,126.4 83.6,128.4C82.9,130.4 82.3,132.5 81.7,134.5C81.1,136.5 80.6,138.3 80.0,140.5C79.4,142.7 78.8,145.2 78.3,147.5C77.8,149.8 77.2,151.9 76.7,154.3C76.2,156.7 75.9,159.3 75.4,162.0C75.0,164.7 74.7,168.1 74.0,170.4C73.3,172.7 72.1,174.3 71.0,176.0C69.9,177.7 68.3,179.3 67.2,180.7C66.1,182.1 65.0,183.6 64.6,184.2" fill="none" stroke="#0000FF" stroke-width="2.2" stroke-linecap="round" stroke-linejoin="round" />
<path d="M155.6,117.0C155.3,115.8 154.5,112.0 153.8,110.0C153.1,108.0 152.6,106.3 151.6,104.8C150.6,103.3 148.6,101.6 148.0,101.0" fill="none" stroke="#0000FF" stroke-width="3.6" stroke-linecap="round" stroke-linejoin="round" />
<path d="M64.6,184.2C64.9,184.8 65.8,186.4 66.2,187.5C66.6,188.6 66.8,189.8 67.2,191.0C67.6,192.2 68.2,193.6 68.5,195.0C68.8,196.4 69.1,198.0 68.9,199.7C68.8,201.4 68.2,203.3 67.6,205.0C67.0,206.7 66.3,208.2 65.4,210.0C64.5,211.8 63.4,213.8 62.4,215.5C61.4,217.2 60.2,218.8 59.4,220.5C58.6,222.2 58.0,223.8 57.4,225.5C56.8,227.2 56.2,229.9 56.0,230.8" fill="none" stroke="#0000FF" stroke-width="1.8" stroke-linecap="round" stroke-linejoin="round" />
<path d="M64.6,184.2C63.9,184.8 61.7,186.4 60.5,187.5C59.3,188.6 58.4,189.7 57.6,191.0C56.8,192.3 56.1,194.1 55.5,195.5C54.9,196.9 54.6,197.9 54.2,199.7C53.9,201.4 53.7,204.0 53.4,206.0C53.1,208.0 53.1,210.2 52.5,211.8C51.9,213.4 50.8,214.3 50.0,215.5C49.2,216.7 48.3,217.3 48.0,218.7C47.7,220.1 48.1,222.3 48.3,224.0C48.5,225.7 48.7,227.7 49.0,229.0C49.3,230.3 49.7,231.1 50.0,232.0C50.3,232.9 50.6,234.1 50.7,234.5" fill="none" stroke="#0000FF" stroke-width="1.3" stroke-linecap="round" stroke-linejoin="round" />
<path d="M63.5,183.0C62.8,182.8 60.8,181.9 59.5,181.5C58.2,181.1 56.2,181.4 56.0,180.7C55.8,180.0 57.2,178.7 58.0,177.5C58.8,176.3 60.5,174.4 61.0,173.8" fill="none" stroke="#0000FF" stroke-width="1.1" stroke-linecap="round" stroke-linejoin="round" />
<path d="M56.0,180.7C55.8,181.1 54.8,182.6 54.5,183.0" fill="none" stroke="#0000FF" stroke-width="0.9" stroke-linecap="round" stroke-linejoin="round" />
<path d="M81.8,160.0C81.8,160.7 81.7,162.6 81.6,164.0C81.5,165.4 81.7,166.7 81.0,168.6C80.3,170.5 78.8,173.2 77.5,175.5C76.2,177.8 74.2,180.8 73.2,182.5C72.2,184.2 72.0,184.8 71.6,186.0C71.2,187.2 70.8,188.8 70.6,189.4" fill="none" stroke="#0000FF" stroke-width="0.9" stroke-linecap="round" stroke-linejoin="round" />
<path d="M67.5,197.0C68.1,197.1 70.0,197.6 71.0,197.5C72.0,197.4 73.1,196.7 73.5,196.5" fill="none" stroke="#0000FF" stroke-width="0.8" stroke-linecap="round" stroke-linejoin="round" />
<path d="M52.6,211.0C52.1,211.3 50.4,211.9 49.5,213.0C48.6,214.1 47.5,216.0 47.0,217.5C46.5,219.0 46.6,221.2 46.5,222.0" fill="none" stroke="#0000FF" stroke-width="0.8" stroke-linecap="round" stroke-linejoin="round" />
<path d="M49.5,229.0C49.1,229.4 47.6,230.6 47.0,231.5C46.4,232.4 46.2,234.0 46.0,234.5" fill="none" stroke="#0000FF" stroke-width="0.8" stroke-linecap="round" stroke-linejoin="round" />
<path d="M56.5,229.5C56.2,230.1 55.2,232.4 55.0,233.0" fill="none" stroke="#0000FF" stroke-width="0.8" stroke-linecap="round" stroke-linejoin="round" />
<path d="M94.0,112.0C94.5,112.8 96.0,114.9 96.8,116.5C97.6,118.1 98.4,119.8 99.0,121.5C99.6,123.2 100.0,124.8 100.2,126.5C100.4,128.2 100.3,129.9 100.0,131.8C99.7,133.7 98.8,136.0 98.2,138.0C97.6,140.0 96.7,142.2 96.5,144.0C96.3,145.8 96.7,147.1 97.0,148.5C97.3,149.9 98.1,151.9 98.3,152.6" fill="none" stroke="#0000FF" stroke-width="1.4" stroke-linecap="round" stroke-linejoin="round" />
<path d="M94.0,112.0C94.5,112.8 96.0,114.9 96.8,116.5C97.6,118.1 98.4,119.8 99.0,121.5C99.6,123.2 100.0,124.8 100.2,126.5C100.4,128.2 100.0,130.9 100.0,131.8" fill="none" stroke="#0000FF" stroke-width="2.1" stroke-linecap="round" stroke-linejoin="round" />
<path d="M105.0,104.3C103.8,104.1 100.3,103.2 98.0,103.0C95.7,102.8 93.1,103.1 91.0,103.3C88.9,103.5 86.2,104.0 85.3,104.2" fill="none" stroke="#0000FF" stroke-width="1.2" stroke-linecap="round" stroke-linejoin="round" />
<path d="M91.0,103.3C90.8,103.7 90.0,104.8 89.8,105.5C89.6,106.2 89.6,107.2 89.6,107.6" fill="none" stroke="#0000FF" stroke-width="0.9" stroke-linecap="round" stroke-linejoin="round" />
<path d="M85.5,116.8C84.8,116.8 82.3,116.6 81.0,116.5C79.7,116.4 78.1,116.3 77.5,116.3" fill="none" stroke="#0000FF" stroke-width="1.0" stroke-linecap="round" stroke-linejoin="round" />
<path d="M81.0,116.5C80.9,116.2 80.2,115.1 80.3,114.5C80.4,113.9 81.5,113.1 81.8,112.8" fill="none" stroke="#0000FF" stroke-width="0.8" stroke-linecap="round" stroke-linejoin="round" />
<path d="M82.3,127.6C81.7,127.6 79.7,127.7 78.5,127.8C77.3,127.9 75.6,128.3 75.0,128.4" fill="none" stroke="#0000FF" stroke-width="1.0" stroke-linecap="round" stroke-linejoin="round" />
<path d="M78.3,147.5C77.8,147.1 76.3,145.8 75.5,145.2C74.7,144.6 74.0,143.7 73.2,144.0C72.5,144.3 71.6,146.0 71.0,146.8C70.4,147.6 70.5,148.2 69.7,149.0C68.9,149.8 67.2,150.9 66.0,151.5C64.8,152.1 63.3,152.4 62.8,152.6" fill="none" stroke="#0000FF" stroke-width="1.1" stroke-linecap="round" stroke-linejoin="round" />
<path d="M69.7,149.0C69.5,150.0 68.9,153.0 68.5,155.0C68.1,157.0 67.2,159.7 67.2,161.0C67.2,162.3 68.3,162.7 68.5,163.0" fill="none" stroke="#0000FF" stroke-width="1.0" stroke-linecap="round" stroke-linejoin="round" />
<path d="M79.5,143.0C79.8,143.7 81.1,145.7 81.5,147.0C81.9,148.3 81.6,149.4 81.8,150.9C82.0,152.4 82.4,154.3 82.6,156.0C82.8,157.7 82.7,160.2 82.7,161.0" fill="none" stroke="#0000FF" stroke-width="1.0" stroke-linecap="round" stroke-linejoin="round" />
<path d="M150.0,218.6C149.2,218.9 147.1,219.5 145.5,220.3C143.9,221.1 142.2,222.1 140.5,223.3C138.8,224.5 136.9,226.1 135.4,227.4C133.9,228.7 132.2,230.4 131.5,231.0" fill="none" stroke="#0000FF" stroke-width="5" stroke-linecap="round" stroke-linejoin="round" />
<path d="M137.0,226.0C136.2,226.7 133.8,228.5 132.3,230.0C130.9,231.5 129.4,233.3 128.3,235.0C127.2,236.7 126.3,238.8 125.8,240.4C125.2,242.0 125.1,243.8 125.0,244.5" fill="none" stroke="#0000FF" stroke-width="7" stroke-linecap="round" stroke-linejoin="round" />
<path d="M125.5,243.0C125.3,244.2 124.5,247.5 124.3,250.0C124.1,252.5 124.2,255.0 124.2,258.0C124.2,261.0 124.5,266.3 124.5,268.0" fill="none" stroke="#0000FF" stroke-width="4.2" stroke-linecap="round" stroke-linejoin="round" />
<path d="M127.0,243.0C127.6,243.8 129.4,246.0 130.5,247.5C131.6,249.0 132.7,250.1 133.7,252.0C134.7,253.9 135.6,256.7 136.3,259.0C137.0,261.3 137.6,264.8 137.8,266.0" fill="none" stroke="#0000FF" stroke-width="4.2" stroke-linecap="round" stroke-linejoin="round" />
<path d="M124.4,248.0C124.4,249.6 124.3,253.6 124.3,257.3C124.3,261.0 124.5,265.7 124.6,270.0C124.7,274.3 124.8,279.5 125.0,283.2C125.2,286.9 125.5,289.1 125.6,292.0C125.7,294.9 125.8,299.1 125.8,300.5" fill="none" stroke="#0000FF" stroke-width="3.2" stroke-linecap="round" stroke-linejoin="round" />
<path d="M125.8,300.5C125.7,301.5 125.5,304.5 125.2,306.5C124.9,308.5 124.4,311.6 124.2,312.6" fill="none" stroke="#0000FF" stroke-width="1.8" stroke-linecap="round" stroke-linejoin="round" />
<path d="M125.8,241.5C126.4,242.3 128.2,244.8 129.5,246.5C130.8,248.2 132.6,249.9 133.7,252.0C134.8,254.1 135.6,256.7 136.3,259.0C137.0,261.3 137.6,262.7 138.0,266.0C138.4,269.3 138.7,274.7 138.8,279.0C139.0,283.3 139.0,288.0 138.9,291.8C138.8,295.6 138.6,298.5 138.3,302.0C138.0,305.5 137.7,309.4 137.2,312.6C136.7,315.8 135.9,318.1 135.3,321.0C134.7,323.9 134.3,327.8 133.7,330.0C133.1,332.2 132.2,333.0 131.5,334.5C130.8,336.0 129.7,338.2 129.3,339.0" fill="none" stroke="#0000FF" stroke-width="3" stroke-linecap="round" stroke-linejoin="round" />
<path d="M124.0,256.0C123.2,256.2 120.5,256.7 119.0,257.5C117.5,258.3 116.0,259.4 114.7,260.7C113.4,262.0 112.0,263.8 111.0,265.5C110.0,267.2 108.9,268.6 108.6,271.0C108.3,273.4 108.6,277.1 109.0,280.0C109.4,282.9 110.4,286.0 111.2,288.4C112.0,290.8 112.9,292.5 113.8,294.5C114.7,296.5 115.7,298.8 116.4,300.5C117.1,302.2 117.6,303.6 118.0,305.0C118.4,306.4 118.4,307.8 119.0,309.0C119.6,310.2 120.5,311.2 121.4,312.0C122.3,312.8 123.7,313.2 124.2,313.5" fill="none" stroke="#0000FF" stroke-width="1.5" stroke-linecap="round" stroke-linejoin="round" />
<path d="M113.5,262.5C113.0,263.4 111.1,265.9 110.5,268.0C109.9,270.1 109.7,272.5 109.8,275.0C109.9,277.5 110.4,280.5 111.0,283.0C111.6,285.5 112.7,287.7 113.5,290.0C114.3,292.3 115.6,295.8 116.0,297.0" fill="none" stroke="#0000FF" stroke-width="0.9" stroke-linecap="round" stroke-linejoin="round" />
<path d="M129.3,339.0C129.5,340.3 130.1,344.4 130.4,347.0C130.7,349.6 130.8,351.3 131.0,354.6C131.2,357.9 131.3,362.7 131.4,367.0C131.5,371.3 131.6,376.3 131.8,380.5C132.0,384.7 132.3,388.2 132.6,392.0C132.9,395.8 133.4,401.2 133.6,403.0" fill="none" stroke="#0000FF" stroke-width="2.2" stroke-linecap="round" stroke-linejoin="round" />
<path d="M129.3,339.0C128.6,339.3 126.2,340.1 124.8,341.0C123.3,341.9 121.8,343.0 120.6,344.2C119.3,345.4 118.2,346.9 117.3,348.3C116.4,349.7 115.7,351.2 115.4,352.8C115.1,354.4 115.3,356.3 115.6,358.0C115.9,359.7 116.3,361.3 117.2,363.2C118.1,365.1 119.7,367.5 121.0,369.5C122.3,371.5 124.1,373.2 125.0,375.3C125.9,377.4 125.9,379.7 126.2,382.0C126.5,384.3 126.6,387.8 126.7,389.0" fill="none" stroke="#0000FF" stroke-width="3" stroke-linecap="round" stroke-linejoin="round" />
<path d="M126.7,389.0C126.9,390.2 127.6,393.7 128.0,396.0C128.4,398.3 128.9,401.2 129.3,403.0C129.7,404.8 130.0,405.6 130.5,407.0C131.0,408.4 131.8,410.1 132.5,411.5C133.2,412.9 134.2,414.3 135.0,415.5C135.8,416.7 137.1,418.0 137.5,418.5" fill="none" stroke="#0000FF" stroke-width="1.4" stroke-linecap="round" stroke-linejoin="round" />
<path d="M130.2,360.4C129.5,360.7 127.5,361.2 126.3,362.0C125.1,362.8 123.7,364.8 123.2,365.3" fill="none" stroke="#0000FF" stroke-width="1.2" stroke-linecap="round" stroke-linejoin="round" />
<path d="M133.0,392.0C133.1,393.3 133.9,397.7 133.7,400.0C133.5,402.3 132.7,404.4 132.0,406.0C131.3,407.6 130.4,408.5 129.5,409.5C128.6,410.5 127.4,411.2 126.5,412.0C125.6,412.8 124.4,414.1 124.0,414.5" fill="none" stroke="#0000FF" stroke-width="1.3" stroke-linecap="round" stroke-linejoin="round" />
<path d="M131.5,373.0C131.8,373.1 133.2,373.4 133.5,373.5" fill="none" stroke="#0000FF" stroke-width="0.9" stroke-linecap="round" stroke-linejoin="round" />
<path d="M129.5,409.5C129.7,410.1 130.2,412.1 130.5,413.0C130.8,413.9 131.1,414.7 131.2,415.0" fill="none" stroke="#0000FF" stroke-width="0.9" stroke-linecap="round" stroke-linejoin="round" />
<path d="M162.0,116.3C162.1,115.3 162.6,112.3 162.8,110.5C163.0,108.7 163.0,107.1 163.4,105.5C163.8,103.9 164.2,102.0 165.0,100.8C165.8,99.5 167.0,98.6 168.5,98.0C170.0,97.4 171.8,97.2 174.0,97.2C176.2,97.2 179.1,97.7 181.8,98.2C184.6,98.8 187.6,99.6 190.5,100.5C193.4,101.4 196.5,102.5 199.0,103.8C201.5,105.0 203.5,106.5 205.5,108.0C207.5,109.5 209.8,111.1 211.2,112.8C212.6,114.5 213.3,116.3 214.2,118.0C215.1,119.7 215.6,121.2 216.4,123.2C217.2,125.2 218.1,127.7 219.0,130.0C219.9,132.3 220.7,134.5 221.6,137.0C222.5,139.5 223.3,142.4 224.2,145.0C225.1,147.6 226.1,150.7 226.8,152.6C227.5,154.5 228.0,155.3 228.6,156.5C229.2,157.7 229.6,158.6 230.2,160.0C230.8,161.4 231.3,163.3 231.9,165.0C232.5,166.7 233.0,168.7 233.7,170.4C234.4,172.2 235.3,173.8 236.2,175.5C237.1,177.2 238.2,178.9 238.9,180.7C239.6,182.4 240.3,185.1 240.6,186.0" fill="none" stroke="#FF0000" stroke-width="2.2" stroke-linecap="round" stroke-linejoin="round" />
<path d="M161.8,117.0C162.0,115.9 162.4,112.4 162.7,110.5C163.0,108.6 163.0,107.1 163.4,105.5C163.8,103.9 164.2,102.2 165.0,101.0C165.8,99.8 167.9,98.7 168.5,98.2" fill="none" stroke="#FF0000" stroke-width="3.4" stroke-linecap="round" stroke-linejoin="round" />
<path d="M240.6,186.0C240.4,186.8 239.9,189.1 239.5,190.5C239.1,191.9 238.5,193.3 238.0,194.6C237.5,195.8 237.0,196.8 236.7,198.0C236.4,199.2 236.1,200.1 236.3,201.5C236.5,202.9 237.3,204.8 238.0,206.5C238.7,208.2 239.6,210.1 240.6,211.8C241.6,213.6 242.8,215.3 244.0,217.0C245.2,218.7 246.6,220.6 247.5,222.2C248.4,223.8 248.9,225.1 249.5,226.5C250.1,227.9 250.8,230.1 251.0,230.8" fill="none" stroke="#FF0000" stroke-width="1.8" stroke-linecap="round" stroke-linejoin="round" />
<path d="M240.6,186.0C241.2,186.7 243.2,188.6 244.3,190.0C245.5,191.4 246.5,192.8 247.5,194.6C248.5,196.3 249.5,198.5 250.4,200.5C251.3,202.5 252.1,204.8 252.7,206.7C253.2,208.6 253.4,210.3 253.7,212.0C254.0,213.7 254.0,215.2 254.4,217.0C254.8,218.8 255.4,221.0 256.0,223.0C256.6,225.0 257.7,228.0 258.0,229.0" fill="none" stroke="#FF0000" stroke-width="1.3" stroke-linecap="round" stroke-linejoin="round" />
<path d="M220.7,160.0C221.2,161.0 222.5,164.0 223.5,166.0C224.5,168.0 225.7,170.0 226.8,172.0C227.9,174.0 229.0,176.0 230.2,178.0C231.3,180.0 233.1,183.2 233.7,184.2" fill="none" stroke="#FF0000" stroke-width="0.9" stroke-linecap="round" stroke-linejoin="round" />
<path d="M240.0,184.5C240.4,183.7 241.8,181.0 242.5,179.5C243.2,178.0 243.4,176.6 244.0,175.6C244.6,174.6 245.7,173.8 246.0,173.5" fill="none" stroke="#FF0000" stroke-width="1.1" stroke-linecap="round" stroke-linejoin="round" />
<path d="M244.0,177.0C244.5,177.5 246.1,179.3 247.0,180.0C247.9,180.7 249.1,180.8 249.5,181.0" fill="none" stroke="#FF0000" stroke-width="0.8" stroke-linecap="round" stroke-linejoin="round" />
<path d="M236.8,199.5C236.2,199.3 234.4,199.0 233.5,198.5C232.6,198.0 231.8,196.8 231.5,196.5" fill="none" stroke="#FF0000" stroke-width="0.8" stroke-linecap="round" stroke-linejoin="round" />
<path d="M241.0,212.5C241.5,212.6 243.2,213.2 244.0,213.0C244.8,212.8 245.7,211.8 246.0,211.5" fill="none" stroke="#FF0000" stroke-width="0.8" stroke-linecap="round" stroke-linejoin="round" />
<path d="M252.8,207.0C253.2,207.5 254.4,208.8 255.0,210.0C255.6,211.2 256.2,213.0 256.5,214.5C256.8,216.0 256.9,218.2 257.0,219.0" fill="none" stroke="#FF0000" stroke-width="0.8" stroke-linecap="round" stroke-linejoin="round" />
<path d="M249.5,226.5C249.9,227.0 251.4,228.5 252.0,229.5C252.6,230.5 252.8,232.0 253.0,232.5" fill="none" stroke="#FF0000" stroke-width="0.8" stroke-linecap="round" stroke-linejoin="round" />
<path d="M255.5,222.5C255.8,223.1 257.0,224.9 257.5,226.0C258.0,227.1 258.3,228.5 258.5,229.0" fill="none" stroke="#FF0000" stroke-width="0.8" stroke-linecap="round" stroke-linejoin="round" />
<path d="M211.2,112.8C210.7,113.7 208.9,116.3 208.0,118.0C207.1,119.7 206.4,121.2 206.0,123.2C205.6,125.2 205.6,127.7 205.6,130.0C205.6,132.3 205.8,134.8 206.0,137.0C206.2,139.2 206.6,141.5 206.9,143.5C207.2,145.5 207.7,147.4 207.8,149.0C207.9,150.6 207.7,151.8 207.6,153.0C207.5,154.2 207.1,155.5 207.0,156.0" fill="none" stroke="#FF0000" stroke-width="1.4" stroke-linecap="round" stroke-linejoin="round" />
<path d="M211.2,112.8C210.7,113.7 208.9,116.3 208.0,118.0C207.1,119.7 206.4,121.2 206.0,123.2C205.6,125.2 205.6,128.0 205.6,130.0C205.6,132.0 205.9,134.2 206.0,135.0" fill="none" stroke="#FF0000" stroke-width="2.1" stroke-linecap="round" stroke-linejoin="round" />
<path d="M200.0,104.2C201.0,104.0 204.0,103.2 206.0,103.0C208.0,102.8 210.3,103.0 212.0,103.3C213.7,103.5 215.3,104.3 216.0,104.5" fill="none" stroke="#FF0000" stroke-width="1.2" stroke-linecap="round" stroke-linejoin="round" />
<path d="M212.0,103.3C212.3,103.7 213.4,105.0 213.8,105.8C214.2,106.6 214.4,107.6 214.5,108.0" fill="none" stroke="#FF0000" stroke-width="0.9" stroke-linecap="round" stroke-linejoin="round" />
<path d="M217.0,117.0C217.7,116.8 219.7,116.1 221.0,116.0C222.3,115.9 224.3,116.4 225.0,116.5" fill="none" stroke="#FF0000" stroke-width="1.0" stroke-linecap="round" stroke-linejoin="round" />
<path d="M221.0,116.0C221.2,115.7 222.0,114.6 222.0,114.0C222.0,113.4 221.2,112.6 221.0,112.3" fill="none" stroke="#FF0000" stroke-width="0.8" stroke-linecap="round" stroke-linejoin="round" />
<path d="M219.8,128.0C220.5,127.9 222.6,127.4 224.0,127.5C225.4,127.6 227.3,128.4 228.0,128.6" fill="none" stroke="#FF0000" stroke-width="1.0" stroke-linecap="round" stroke-linejoin="round" />
<path d="M224.3,145.3C224.7,145.0 225.6,143.7 226.5,143.5C227.4,143.3 228.7,143.4 229.5,144.0C230.3,144.6 230.9,146.1 231.5,147.0C232.1,147.9 232.2,148.6 233.0,149.5C233.8,150.4 235.0,151.6 236.0,152.2C237.0,152.8 238.5,153.0 239.0,153.2" fill="none" stroke="#FF0000" stroke-width="1.1" stroke-linecap="round" stroke-linejoin="round" />
<path d="M233.0,149.5C233.2,150.4 234.0,153.1 234.5,155.0C235.0,156.9 235.7,159.3 236.0,161.0C236.3,162.7 236.2,164.3 236.3,165.0" fill="none" stroke="#FF0000" stroke-width="1.0" stroke-linecap="round" stroke-linejoin="round" />
<path d="M223.5,143.0C223.2,143.7 222.2,145.7 222.0,147.0C221.8,148.3 221.9,149.5 222.0,151.0C222.1,152.5 222.2,154.3 222.6,156.0C223.0,157.7 223.7,159.3 224.3,161.0C225.0,162.7 226.1,165.2 226.5,166.0" fill="none" stroke="#FF0000" stroke-width="1.0" stroke-linecap="round" stroke-linejoin="round" />
<path d="M153.0,218.6C153.8,218.9 156.2,219.5 158.0,220.3C159.8,221.1 162.1,222.1 164.0,223.3C165.9,224.5 168.1,226.1 169.7,227.4C171.3,228.7 172.9,230.4 173.5,231.0" fill="none" stroke="#FF0000" stroke-width="5" stroke-linecap="round" stroke-linejoin="round" />
<path d="M168.0,226.0C168.8,226.7 171.2,228.5 172.7,230.0C174.1,231.5 175.6,233.3 176.7,235.0C177.8,236.7 178.6,238.8 179.2,240.4C179.8,242.0 179.9,243.8 180.0,244.5" fill="none" stroke="#FF0000" stroke-width="7" stroke-linecap="round" stroke-linejoin="round" />
<path d="M179.6,243.0C179.8,244.2 180.7,247.5 181.0,250.0C181.3,252.5 181.4,255.0 181.4,258.0C181.4,261.0 181.2,266.3 181.2,268.0" fill="none" stroke="#FF0000" stroke-width="4.2" stroke-linecap="round" stroke-linejoin="round" />
<path d="M178.0,243.0C177.4,243.8 175.8,245.8 174.5,247.5C173.2,249.2 171.5,251.1 170.5,253.0C169.5,254.9 168.8,256.8 168.3,259.0C167.8,261.2 167.5,264.8 167.3,266.0" fill="none" stroke="#FF0000" stroke-width="4.2" stroke-linecap="round" stroke-linejoin="round" />
<path d="M180.4,248.0C180.6,249.5 181.4,253.3 181.6,257.0C181.8,260.7 181.5,265.6 181.4,270.0C181.3,274.4 181.2,279.5 181.0,283.2C180.8,286.9 180.6,289.1 180.4,292.0C180.2,294.9 180.1,299.1 180.0,300.5" fill="none" stroke="#FF0000" stroke-width="3.2" stroke-linecap="round" stroke-linejoin="round" />
<path d="M180.0,300.5C180.1,301.4 180.1,304.2 180.3,306.0C180.5,307.8 180.9,310.2 181.0,311.0" fill="none" stroke="#FF0000" stroke-width="1.6" stroke-linecap="round" stroke-linejoin="round" />
<path d="M178.6,241.5C177.9,242.3 176.0,244.4 174.5,246.5C173.0,248.6 170.8,251.6 169.7,253.8C168.6,256.1 168.4,258.0 168.0,260.0C167.6,262.0 167.4,262.8 167.2,266.0C167.0,269.2 166.8,274.7 166.7,279.0C166.6,283.3 166.5,287.8 166.6,291.8C166.7,295.8 167.1,299.2 167.5,303.0C167.9,306.8 168.3,311.1 168.9,314.3C169.5,317.5 170.1,319.4 170.8,322.0C171.5,324.6 172.6,328.0 173.2,330.0C173.8,332.0 173.9,332.8 174.2,334.0C174.5,335.2 174.9,336.8 175.0,337.3" fill="none" stroke="#FF0000" stroke-width="3" stroke-linecap="round" stroke-linejoin="round" />
<path d="M182.0,255.0C182.8,255.4 185.1,256.4 186.5,257.3C187.9,258.2 189.3,259.4 190.5,260.7C191.7,262.0 192.9,263.6 193.8,265.0C194.7,266.4 195.3,267.2 195.7,269.4C196.1,271.6 196.2,275.1 196.0,278.0C195.8,280.9 195.4,284.2 194.8,286.7C194.2,289.2 193.3,291.0 192.4,293.0C191.5,295.0 190.4,297.0 189.6,298.8C188.8,300.6 188.2,302.3 187.6,304.0C187.0,305.7 186.4,308.2 186.2,309.0" fill="none" stroke="#FF0000" stroke-width="1.5" stroke-linecap="round" stroke-linejoin="round" />
<path d="M193.0,264.0C193.4,264.7 194.8,266.5 195.5,268.0C196.2,269.5 196.8,271.2 197.0,273.0C197.2,274.8 196.6,278.0 196.5,279.0" fill="none" stroke="#FF0000" stroke-width="0.9" stroke-linecap="round" stroke-linejoin="round" />
<path d="M192.4,293.0C192.2,294.0 191.9,297.0 191.4,299.0C190.9,301.0 190.0,303.3 189.5,305.0C189.0,306.7 188.7,308.3 188.5,309.0" fill="none" stroke="#FF0000" stroke-width="0.8" stroke-linecap="round" stroke-linejoin="round" />
<path d="M175.0,337.3C175.0,338.8 175.2,343.1 175.2,346.0C175.2,348.9 175.2,351.1 175.0,354.6C174.8,358.1 174.5,362.7 174.2,367.0C173.9,371.3 173.5,376.3 173.3,380.5C173.1,384.7 172.9,388.2 172.8,392.0C172.7,395.8 172.6,401.2 172.5,403.0" fill="none" stroke="#FF0000" stroke-width="2.2" stroke-linecap="round" stroke-linejoin="round" />
<path d="M175.0,337.3C175.8,337.7 178.4,338.6 179.8,339.6C181.2,340.6 182.4,341.9 183.7,343.3C184.9,344.7 186.3,346.2 187.3,347.8C188.3,349.4 189.3,351.1 189.7,352.8C190.1,354.5 190.0,356.3 189.7,358.0C189.4,359.7 188.9,361.4 188.0,363.2C187.1,364.9 185.7,366.8 184.5,368.5C183.3,370.2 181.8,371.5 181.0,373.6C180.2,375.7 180.1,378.4 179.8,381.0C179.5,383.6 179.5,387.7 179.4,389.0" fill="none" stroke="#FF0000" stroke-width="3" stroke-linecap="round" stroke-linejoin="round" />
<path d="M179.4,389.0C179.2,390.2 178.6,393.7 178.0,396.0C177.4,398.3 176.6,401.2 176.0,403.0C175.4,404.8 175.3,405.5 174.6,407.0C173.9,408.5 172.8,410.5 172.0,412.0C171.2,413.5 170.3,414.8 169.5,416.0C168.7,417.2 167.7,418.8 167.3,419.4" fill="none" stroke="#FF0000" stroke-width="1.4" stroke-linecap="round" stroke-linejoin="round" />
<path d="M175.0,360.4C175.6,360.6 177.6,361.0 178.7,361.8C179.8,362.6 181.3,364.5 181.8,365.0" fill="none" stroke="#FF0000" stroke-width="1.2" stroke-linecap="round" stroke-linejoin="round" />
<path d="M173.0,392.0C172.9,393.3 172.1,397.8 172.2,400.0C172.3,402.2 172.9,403.6 173.6,405.0C174.3,406.4 175.5,407.4 176.5,408.5C177.5,409.6 178.6,410.6 179.5,411.5C180.4,412.4 181.6,413.6 182.0,414.0" fill="none" stroke="#FF0000" stroke-width="1.3" stroke-linecap="round" stroke-linejoin="round" />
<path d="M173.6,373.0C173.2,373.2 171.8,373.8 171.5,374.0" fill="none" stroke="#FF0000" stroke-width="0.9" stroke-linecap="round" stroke-linejoin="round" />
<path d="M176.5,408.5C176.5,409.1 176.2,410.9 176.5,412.0C176.8,413.1 177.8,414.5 178.0,415.0" fill="none" stroke="#FF0000" stroke-width="0.9" stroke-linecap="round" stroke-linejoin="round" />
<path d="M134.5,173.0C141.0,173.0 167.0,173.0 173.5,173.0" fill="none" stroke="#FF0000" stroke-width="2.4" stroke-linecap="round" stroke-linejoin="round" />
<path d="M150.0,171.0C149.4,170.9 147.6,170.7 146.5,170.3C145.4,169.9 144.0,168.8 143.5,168.5" fill="none" stroke="#FF0000" stroke-width="1.3" stroke-linecap="round" stroke-linejoin="round" />
<path d="M134.5,173.0C134.0,173.1 132.3,173.1 131.5,173.6C130.7,174.1 129.8,175.6 129.5,176.0" fill="none" stroke="#FF0000" stroke-width="0.8" stroke-linecap="round" stroke-linejoin="round" />
<path d="M134.5,173.0C133.9,173.4 131.7,174.5 131.0,175.4C130.3,176.3 130.6,178.0 130.5,178.5" fill="none" stroke="#FF0000" stroke-width="0.8" stroke-linecap="round" stroke-linejoin="round" />
<path d="M134.5,173.0C134.2,173.5 132.7,175.0 132.5,176.0C132.3,177.0 133.3,178.5 133.5,179.0" fill="none" stroke="#FF0000" stroke-width="0.8" stroke-linecap="round" stroke-linejoin="round" />
<path d="M135.0,173.5C135.0,174.0 134.6,175.7 134.8,176.5C135.0,177.3 135.8,178.2 136.0,178.5" fill="none" stroke="#FF0000" stroke-width="0.8" stroke-linecap="round" stroke-linejoin="round" />
<path d="M173.5,173.0C174.2,172.4 176.2,170.2 177.5,169.5C178.8,168.8 180.3,168.7 181.5,169.0C182.7,169.3 184.0,171.1 184.5,171.5" fill="none" stroke="#FF0000" stroke-width="0.9" stroke-linecap="round" stroke-linejoin="round" />
<path d="M173.5,173.0C174.2,172.8 176.2,171.7 177.5,171.5C178.8,171.3 180.0,171.3 181.0,171.8C182.0,172.3 183.1,174.1 183.5,174.5" fill="none" stroke="#FF0000" stroke-width="0.9" stroke-linecap="round" stroke-linejoin="round" />
<path d="M173.5,173.0C174.1,173.0 175.9,172.9 177.0,173.2C178.1,173.5 179.2,174.1 180.0,174.8C180.8,175.5 181.5,177.1 181.8,177.5" fill="none" stroke="#FF0000" stroke-width="0.9" stroke-linecap="round" stroke-linejoin="round" />
<path d="M173.5,173.5C174.0,173.8 175.7,174.4 176.5,175.2C177.3,175.9 177.8,177.1 178.2,178.0C178.6,178.9 178.7,180.1 178.8,180.5" fill="none" stroke="#FF0000" stroke-width="0.9" stroke-linecap="round" stroke-linejoin="round" />
<path d="M173.5,174.0C173.8,174.5 174.6,176.0 175.0,177.0C175.4,178.0 175.7,179.5 175.8,180.0" fill="none" stroke="#FF0000" stroke-width="0.9" stroke-linecap="round" stroke-linejoin="round" />
<rect x="149.3" y="146" width="6.6" height="73.5" fill="#FF0000"/>
<path d="M154.5,183.5C155.1,184.2 156.8,186.4 158.0,188.0C159.2,189.6 160.9,192.2 161.5,193.0" fill="none" stroke="#FF0000" stroke-width="2.4" stroke-linecap="round" stroke-linejoin="round" />
<path d="M147.0,118.6C145.8,118.6 142.5,118.6 140.0,118.4C137.5,118.2 133.3,117.7 132.0,117.6" fill="none" stroke="#FF0000" stroke-width="2.1" stroke-linecap="round" stroke-linejoin="round" />
<path d="M163.0,118.6C164.0,118.6 167.1,118.7 169.0,118.6C170.9,118.5 173.7,118.2 174.6,118.1" fill="none" stroke="#FF0000" stroke-width="2.1" stroke-linecap="round" stroke-linejoin="round" />
<path d="M174.1,118.0C174.8,117.1 176.3,113.9 178.0,112.5C179.7,111.1 182.5,109.6 184.5,109.4C186.5,109.2 188.5,110.2 190.0,111.5C191.5,112.8 192.8,115.2 193.7,116.9C194.6,118.6 195.1,120.0 195.6,121.5C196.1,123.0 196.3,125.2 196.5,126.0" fill="none" stroke="#FF0000" stroke-width="1.0" stroke-linecap="round" stroke-linejoin="round" />
<path d="M132.0,117.7C131.4,116.8 129.8,113.6 128.1,112.2C126.4,110.8 123.6,109.3 121.6,109.1C119.6,108.9 117.6,110.0 116.1,111.2C114.6,112.5 113.3,114.9 112.4,116.6C111.5,118.3 111.0,119.7 110.5,121.2C110.0,122.7 109.8,125.0 109.6,125.7" fill="none" stroke="#FF0000" stroke-width="1.0" stroke-linecap="round" stroke-linejoin="round" />
<path d="M174.1,118.0C174.8,117.3 176.8,114.9 178.5,113.8C180.2,112.7 182.3,111.5 184.0,111.5C185.7,111.5 187.2,112.4 188.5,113.5C189.8,114.6 190.8,116.6 191.5,118.0C192.2,119.4 192.6,120.7 193.0,122.0C193.4,123.3 193.6,125.3 193.7,126.0" fill="none" stroke="#FF0000" stroke-width="1.0" stroke-linecap="round" stroke-linejoin="round" />
<path d="M132.0,117.7C131.3,117.0 129.3,114.6 127.6,113.5C126.0,112.4 123.8,111.2 122.1,111.2C120.4,111.2 118.9,112.1 117.6,113.2C116.4,114.3 115.4,116.3 114.6,117.7C113.9,119.1 113.5,120.4 113.1,121.7C112.7,123.0 112.5,125.0 112.4,125.7" fill="none" stroke="#FF0000" stroke-width="1.0" stroke-linecap="round" stroke-linejoin="round" />
<path d="M174.1,118.0C174.9,117.5 177.4,115.9 179.0,115.2C180.6,114.5 182.2,113.7 183.5,113.8C184.8,113.9 186.0,115.0 187.0,116.0C188.0,117.0 188.7,118.8 189.3,120.0C189.9,121.2 190.2,122.4 190.5,123.5C190.8,124.6 190.8,126.0 190.8,126.5" fill="none" stroke="#FF0000" stroke-width="1.0" stroke-linecap="round" stroke-linejoin="round" />
<path d="M132.0,117.7C131.2,117.2 128.7,115.6 127.1,114.9C125.5,114.2 123.9,113.4 122.6,113.5C121.3,113.6 120.1,114.7 119.1,115.7C118.1,116.7 117.4,118.5 116.8,119.7C116.2,121.0 115.9,122.1 115.6,123.2C115.4,124.3 115.4,125.7 115.3,126.2" fill="none" stroke="#FF0000" stroke-width="1.0" stroke-linecap="round" stroke-linejoin="round" />
<path d="M174.1,118.0C174.9,117.8 177.5,116.8 179.0,116.5C180.5,116.2 181.9,116.0 183.0,116.3C184.1,116.6 184.8,117.6 185.5,118.5C186.2,119.4 186.6,120.5 187.0,121.5C187.4,122.5 187.7,123.6 187.8,124.5C187.9,125.4 187.8,126.6 187.8,127.0" fill="none" stroke="#FF0000" stroke-width="1.0" stroke-linecap="round" stroke-linejoin="round" />
<path d="M132.0,117.7C131.2,117.5 128.6,116.5 127.1,116.2C125.6,115.9 124.2,115.7 123.1,116.0C122.0,116.3 121.3,117.3 120.6,118.2C119.9,119.1 119.5,120.2 119.1,121.2C118.7,122.2 118.4,123.3 118.3,124.2C118.2,125.1 118.3,126.3 118.3,126.7" fill="none" stroke="#FF0000" stroke-width="1.0" stroke-linecap="round" stroke-linejoin="round" />
<path d="M174.1,118.0C174.8,118.0 177.3,117.6 178.5,117.8C179.7,118.0 180.7,118.4 181.5,119.0C182.3,119.6 183.0,120.6 183.5,121.5C184.0,122.4 184.3,123.6 184.5,124.5C184.7,125.4 184.8,126.6 184.8,127.0" fill="none" stroke="#FF0000" stroke-width="1.0" stroke-linecap="round" stroke-linejoin="round" />
<path d="M132.0,117.7C131.3,117.7 128.8,117.3 127.6,117.5C126.4,117.7 125.4,118.1 124.6,118.7C123.8,119.3 123.1,120.3 122.6,121.2C122.1,122.1 121.8,123.3 121.6,124.2C121.4,125.1 121.4,126.3 121.3,126.7" fill="none" stroke="#FF0000" stroke-width="1.0" stroke-linecap="round" stroke-linejoin="round" />
<path d="M174.1,118.3C174.7,118.5 176.6,119.0 177.5,119.5C178.4,120.0 179.2,120.8 179.8,121.5C180.4,122.2 180.9,123.2 181.2,124.0C181.5,124.8 181.7,126.1 181.8,126.5" fill="none" stroke="#FF0000" stroke-width="1.0" stroke-linecap="round" stroke-linejoin="round" />
<path d="M132.0,118.0C131.4,118.2 129.6,118.7 128.6,119.2C127.7,119.7 126.9,120.5 126.3,121.2C125.7,122.0 125.2,122.9 124.9,123.7C124.6,124.5 124.4,125.8 124.3,126.2" fill="none" stroke="#FF0000" stroke-width="1.0" stroke-linecap="round" stroke-linejoin="round" />
<path d="M174.1,118.5C174.5,118.8 175.8,119.8 176.5,120.5C177.2,121.2 177.6,122.2 178.0,123.0C178.4,123.8 178.7,125.1 178.8,125.5" fill="none" stroke="#FF0000" stroke-width="1.0" stroke-linecap="round" stroke-linejoin="round" />
<path d="M132.0,118.2C131.6,118.5 130.3,119.5 129.6,120.2C129.0,121.0 128.5,121.9 128.1,122.7C127.7,123.5 127.4,124.8 127.3,125.2" fill="none" stroke="#FF0000" stroke-width="1.0" stroke-linecap="round" stroke-linejoin="round" />
<path d="M152.8,116.3C154.2,116.0 156.3,115.8 158.0,115.8C159.7,115.8 162.0,115.7 163.2,116.3C164.4,116.9 164.5,118.5 165.0,119.5C165.5,120.5 165.8,121.5 166.3,122.6C166.8,123.7 167.4,124.8 167.8,126.0C168.2,127.2 168.5,128.0 168.9,129.5C169.3,131.0 169.7,133.1 170.0,135.0C170.3,136.9 170.7,139.5 170.8,141.0C170.9,142.5 170.8,143.0 170.5,143.8C170.2,144.6 170.0,145.3 169.3,145.8C168.6,146.3 167.4,146.5 166.5,146.7C165.6,146.9 164.9,146.8 163.7,147.0C162.5,147.2 160.8,147.5 159.5,147.6C158.2,147.7 156.9,147.7 155.7,147.6C154.4,147.5 153.2,147.2 152.0,146.9C150.8,146.6 150.1,146.2 148.8,145.8C147.6,145.4 145.8,144.8 144.5,144.2C143.2,143.6 141.7,142.9 140.7,142.2C139.7,141.5 139.1,140.8 138.5,140.0C137.9,139.2 137.6,138.6 137.1,137.6C136.6,136.6 136.0,135.2 135.6,134.0C135.2,132.8 134.9,131.6 134.9,130.7C134.9,129.8 135.1,129.3 135.5,128.8C135.9,128.3 136.6,127.9 137.3,127.6C138.1,127.3 139.1,127.1 140.0,126.9C140.9,126.7 142.1,126.6 143.0,126.5C143.9,126.4 144.7,126.8 145.2,126.5C145.7,126.2 145.8,125.3 146.0,124.5C146.2,123.7 146.2,122.4 146.5,121.5C146.8,120.6 147.1,119.9 147.6,119.2C148.1,118.5 148.5,117.9 149.4,117.4C150.3,116.9 151.4,116.6 152.8,116.3Z" fill="#FF0000" stroke="#FF0000" stroke-width="1.2" stroke-linecap="round" stroke-linejoin="round" />
<path d="M150.0,123.8C150.3,123.2 150.8,122.3 151.4,121.7C152.0,121.1 152.6,120.7 153.4,120.3C154.2,119.9 155.1,119.7 156.0,119.6C156.9,119.5 158.2,119.5 159.1,119.7C160.0,119.9 160.7,120.1 161.3,120.5C161.9,120.9 162.4,121.4 162.6,122.0C162.8,122.6 162.6,123.4 162.3,124.0C162.0,124.6 161.5,125.1 160.9,125.5C160.3,125.9 159.4,126.1 158.5,126.3C157.6,126.5 156.5,126.5 155.7,126.8C154.9,127.0 154.2,127.5 153.5,127.8C152.8,128.1 152.2,128.4 151.7,128.4C151.1,128.4 150.6,128.2 150.2,127.9C149.8,127.6 149.5,127.2 149.4,126.7C149.3,126.2 149.3,125.7 149.4,125.2C149.5,124.7 149.7,124.4 150.0,123.8Z" fill="#8B0000" stroke="none" stroke-width="0" stroke-linecap="round" stroke-linejoin="round" />
<path d="M136.7,128.6C137.1,128.1 137.8,127.8 138.5,127.6C139.2,127.4 139.9,127.2 140.7,127.2C141.5,127.2 142.5,127.4 143.5,127.6C144.5,127.8 145.6,128.1 146.5,128.4C147.4,128.7 148.0,128.9 148.7,129.3C149.4,129.7 149.9,130.2 150.5,130.7C151.1,131.2 151.6,131.6 152.0,132.2C152.4,132.8 152.7,133.4 152.8,134.1C153.0,134.8 153.0,135.7 152.9,136.5C152.8,137.3 152.0,137.9 152.2,138.7C152.4,139.4 153.2,140.2 154.0,141.0C154.8,141.8 156.6,142.7 156.8,143.3C157.1,143.9 156.1,144.4 155.5,144.7C154.9,145.0 154.3,145.2 153.4,145.2C152.5,145.2 151.2,145.0 150.0,144.8C148.8,144.6 147.6,144.2 146.5,143.9C145.4,143.6 144.6,143.2 143.7,142.7C142.8,142.2 142.0,141.6 141.3,141.0C140.6,140.4 140.1,139.7 139.7,139.0C139.3,138.3 139.1,137.6 139.0,137.0C138.9,136.4 139.0,136.0 139.2,135.6C139.4,135.2 140.2,135.0 140.1,134.7C140.0,134.4 139.0,134.3 138.5,134.0C138.0,133.7 137.7,133.4 137.3,133.0C137.0,132.6 136.6,132.2 136.4,131.8C136.2,131.4 136.1,131.2 136.1,130.7C136.1,130.2 136.3,129.1 136.7,128.6Z" fill="#8B0000" stroke="none" stroke-width="0" stroke-linecap="round" stroke-linejoin="round" />
<path d="M154.5,131.8C154.9,131.2 155.7,130.8 156.5,130.5C157.3,130.2 158.2,130.0 159.1,130.1C160.0,130.2 161.1,130.5 162.0,131.0C162.9,131.5 163.7,132.2 164.3,133.0C164.9,133.8 165.4,134.9 165.8,135.8C166.2,136.8 166.4,137.8 166.6,138.7C166.8,139.6 166.9,140.5 166.8,141.3C166.7,142.1 166.4,142.8 166.0,143.3C165.6,143.8 165.1,144.0 164.5,144.1C163.9,144.2 163.4,144.2 162.6,143.9C161.8,143.6 160.5,143.0 159.5,142.3C158.5,141.6 157.6,140.7 156.8,139.9C156.1,139.2 155.5,138.5 155.0,137.8C154.5,137.1 154.2,136.6 154.0,135.9C153.8,135.2 153.8,134.5 153.9,133.8C154.0,133.1 154.1,132.4 154.5,131.8Z" fill="#8B0000" stroke="none" stroke-width="0" stroke-linecap="round" stroke-linejoin="round" />
<path d="M159.1,125.8C159.5,125.4 160.8,125.2 161.7,125.2C162.6,125.2 163.7,125.6 164.3,126.0C164.9,126.4 165.1,127.1 165.3,127.7C165.5,128.3 165.6,129.0 165.5,129.5C165.4,130.0 165.0,130.5 164.6,130.8C164.2,131.1 163.8,131.3 163.2,131.3C162.6,131.3 161.8,131.0 161.2,130.7C160.6,130.4 160.1,130.0 159.7,129.5C159.3,129.0 159.1,128.2 159.0,127.6C158.9,127.0 158.7,126.2 159.1,125.8Z" fill="#8B0000" stroke="none" stroke-width="0" stroke-linecap="round" stroke-linejoin="round" />
<path d="M152.3,122.5C152.7,122.2 153.6,121.3 154.5,121.0C155.4,120.7 157.0,120.7 157.5,120.6" fill="none" stroke="#FF0000" stroke-width="0.8" stroke-linecap="round" stroke-linejoin="round" />
<path d="M156.5,133.0C156.8,132.9 157.8,132.1 158.5,132.2C159.2,132.3 160.3,132.9 161.0,133.5C161.7,134.1 162.2,135.6 162.5,136.0" fill="none" stroke="#FF0000" stroke-width="0.8" stroke-linecap="round" stroke-linejoin="round" />
<path d="M121.5,190.1C122.5,189.4 125.0,190.2 127.0,190.3C129.1,190.4 131.5,190.4 133.8,190.8C136.1,191.2 138.6,192.0 141.0,192.6C143.4,193.2 145.9,193.9 148.2,194.3C150.5,194.7 152.6,195.0 155.0,195.2C157.4,195.3 160.1,195.4 162.6,195.2C165.1,195.0 167.6,194.4 170.0,193.8C172.4,193.2 175.1,192.0 177.0,191.5C178.9,191.0 180.1,191.1 181.5,191.0C182.9,190.9 184.5,191.0 185.6,191.2C186.7,191.4 187.6,191.6 188.2,192.0C188.8,192.4 189.1,192.9 189.2,193.7C189.3,194.5 189.1,195.9 188.8,197.0C188.6,198.1 188.2,199.1 187.7,200.1C187.2,201.1 186.5,202.0 186.0,203.0C185.5,204.0 184.9,204.9 184.9,205.9C184.9,206.9 185.6,208.0 186.2,209.0C186.8,210.0 187.7,210.9 188.5,211.7C189.3,212.5 190.3,213.1 191.0,213.8C191.7,214.5 192.5,215.2 192.8,216.0C193.1,216.8 193.1,217.6 193.0,218.3C192.9,219.0 192.7,219.6 192.0,220.3C191.3,221.0 190.1,221.9 189.0,222.6C187.9,223.3 187.1,223.9 185.6,224.6C184.1,225.3 181.9,226.2 180.0,226.9C178.1,227.6 176.0,228.4 174.0,228.9C172.0,229.4 169.9,229.8 168.0,230.2C166.1,230.5 164.0,230.8 162.6,231.0C161.2,231.2 160.5,231.2 159.5,231.1C158.5,231.0 157.8,230.9 156.8,230.4C155.8,229.9 154.5,228.8 153.5,227.8C152.5,226.8 151.7,225.4 151.0,224.6C150.3,223.8 149.7,223.5 149.3,223.0C149.0,222.5 148.9,222.2 148.9,221.7C148.9,221.2 149.2,220.5 149.6,220.2C149.9,219.8 150.2,219.6 151.0,219.6C151.8,219.6 153.3,219.8 154.5,220.0C155.7,220.2 157.2,220.5 158.2,221.0C159.2,221.5 159.8,222.3 160.5,222.8C161.2,223.3 161.7,223.9 162.6,223.9C163.5,223.9 164.8,223.4 166.0,223.0C167.2,222.6 168.2,222.2 169.7,221.7C171.2,221.2 173.3,220.6 175.0,220.0C176.7,219.4 178.6,218.6 179.8,218.1C181.0,217.6 181.4,217.5 182.0,217.2C182.6,216.8 183.5,216.6 183.4,216.0C183.3,215.4 182.1,214.5 181.5,213.8C180.9,213.1 180.4,212.4 179.8,211.7C179.2,211.0 178.7,210.2 178.2,209.5C177.7,208.8 177.4,208.1 177.0,207.3C176.6,206.5 176.1,205.6 175.8,204.8C175.6,204.0 175.4,203.1 175.5,202.3C175.6,201.6 176.0,200.8 176.5,200.3C177.0,199.8 179.5,199.4 178.4,199.5C177.3,199.6 172.6,200.5 170.0,200.8C167.4,201.1 165.1,201.2 162.6,201.2C160.1,201.2 157.4,201.2 155.0,201.0C152.6,200.8 150.5,200.6 148.2,200.3C145.9,200.0 143.4,199.5 141.0,199.0C138.6,198.5 135.2,197.6 133.8,197.3C132.4,197.0 132.9,196.9 132.7,197.0C132.4,197.1 132.5,196.9 132.3,198.0C132.1,199.1 131.8,201.7 131.6,203.5C131.4,205.3 131.1,207.2 130.9,208.8C130.7,210.4 130.5,211.6 130.3,213.0C130.1,214.4 129.7,216.2 129.5,217.4C129.3,218.6 129.2,219.2 129.0,220.0C128.8,220.8 128.6,221.8 128.0,222.4C127.4,223.0 126.5,223.2 125.5,223.5C124.5,223.8 123.4,223.8 122.3,223.9C121.2,224.0 120.1,224.0 119.0,223.9C117.9,223.8 116.4,223.7 115.8,223.2C115.2,222.7 115.3,221.7 115.3,221.0C115.3,220.3 115.5,220.0 115.8,218.8C116.1,217.6 116.7,215.7 117.2,214.0C117.7,212.3 118.2,210.5 118.7,208.8C119.2,207.1 119.6,205.7 119.9,204.0C120.2,202.3 120.6,200.3 120.8,198.7C121.0,197.1 121.1,195.9 121.2,194.5C121.3,193.1 120.5,190.8 121.5,190.1Z" fill="#FF66BE" stroke="#000" stroke-width="1.5" stroke-linejoin="round"/>
<path d="M128.5,196.3C128.3,197.1 127.9,199.6 127.5,201.0C127.1,202.4 126.4,203.7 126.3,205.0C126.2,206.3 127.0,207.7 126.8,209.0C126.6,210.3 125.4,211.7 125.2,213.0C125.0,214.3 125.6,215.8 125.4,217.0C125.2,218.2 124.3,219.1 124.0,220.0C123.7,220.9 123.8,222.2 123.7,222.6" fill="none" stroke="#000" stroke-width="1.1" stroke-linecap="round"/>
<path d="M128.5,194.3C129.4,194.3 131.9,194.2 134.0,194.5C136.1,194.8 138.6,195.5 141.0,196.0C143.4,196.5 145.9,197.2 148.2,197.6C150.5,198.0 152.6,198.2 155.0,198.4C157.4,198.6 160.1,198.7 162.6,198.5C165.1,198.3 167.6,197.8 170.0,197.3C172.4,196.8 175.0,195.9 177.0,195.4C179.0,194.9 180.5,194.5 182.0,194.3C183.5,194.2 185.3,194.5 186.0,194.5" fill="none" stroke="#000" stroke-width="1.1" stroke-linecap="round"/>
<path d="M186.0,194.5C185.9,195.1 185.7,196.8 185.3,198.0C184.9,199.2 184.1,200.3 183.5,201.5C182.9,202.7 181.7,203.8 181.6,205.0C181.5,206.2 182.2,207.4 182.8,208.5C183.4,209.6 184.2,210.6 185.0,211.5C185.8,212.4 187.2,213.3 187.8,214.2C188.4,215.1 188.7,216.1 188.6,217.0C188.5,217.9 187.8,218.8 187.0,219.5C186.2,220.2 185.0,220.8 183.5,221.5C182.0,222.2 179.9,222.8 178.0,223.5C176.1,224.2 174.0,225.0 172.0,225.6C170.0,226.2 167.8,227.0 166.0,227.3C164.2,227.6 162.8,227.7 161.5,227.5C160.2,227.3 159.1,227.0 158.0,226.3C156.9,225.6 156.0,224.3 155.0,223.5C154.0,222.7 152.5,221.8 152.0,221.5" fill="none" stroke="#000" stroke-width="1.1" stroke-linecap="round"/>
</g>
<g id="engine">
<rect x="348.2" y="24.9" width="485.5" height="366.7" fill="#000"/>
<defs>
<linearGradient id="mv" x1="0" y1="0" x2="0" y2="1">
<stop offset="0" stop-color="#808080"/><stop offset="0.15" stop-color="#808080"/><stop offset="0.19" stop-color="#484848"/><stop offset="0.29" stop-color="#a0a0a0"/><stop offset="0.43" stop-color="#ffffff"/><stop offset="0.53" stop-color="#cccccc"/><stop offset="0.68" stop-color="#6a6a6a"/><stop offset="0.79" stop-color="#3c3c3c"/><stop offset="0.83" stop-color="#808080"/><stop offset="1" stop-color="#808080"/>
</linearGradient>
<linearGradient id="ms" x1="0" y1="0" x2="0" y2="1">
<stop offset="0" stop-color="#1c1c1c"/><stop offset="0.3" stop-color="#8c8c8c"/><stop offset="0.5" stop-color="#ffffff"/><stop offset="0.7" stop-color="#8c8c8c"/><stop offset="1" stop-color="#1c1c1c"/>
</linearGradient>
<linearGradient id="ml" x1="0" y1="0" x2="0" y2="1">
<stop offset="0" stop-color="#4a4a4a"/><stop offset="0.3" stop-color="#767676"/><stop offset="0.5" stop-color="#d4d4d4"/><stop offset="0.7" stop-color="#767676"/><stop offset="1" stop-color="#4a4a4a"/>
</linearGradient>
<linearGradient id="mw" x1="0" y1="0" x2="0" y2="1">
<stop offset="0" stop-color="#161616"/><stop offset="0.22" stop-color="#686868"/><stop offset="0.5" stop-color="#f0f0f0"/><stop offset="0.78" stop-color="#686868"/><stop offset="1" stop-color="#161616"/>
</linearGradient>
<linearGradient id="mvh" x1="0" y1="0" x2="1" y2="0">
<stop offset="0" stop-color="#555"/><stop offset="0.5" stop-color="#fff"/><stop offset="1" stop-color="#555"/>
</linearGradient>
<linearGradient id="mh" x1="0" y1="0" x2="1" y2="0">
<stop offset="0" stop-color="#3a3a3a"/><stop offset="0.2" stop-color="#8c8c8c"/><stop offset="0.5" stop-color="#f4f4f4"/><stop offset="0.8" stop-color="#8c8c8c"/><stop offset="1" stop-color="#3a3a3a"/>
</linearGradient>
</defs>
<rect x="412.0" y="96.0" width="15.0" height="86.0" fill="#C8C8C8" />
<rect x="410.8" y="182.0" width="16.2" height="66.0" fill="#A8A8A8" />
<rect x="427.0" y="148.2" width="319.7" height="6.2" fill="#808080" />
<rect x="494.0" y="66.7" width="4.8" height="37.3" fill="#808080" />
<rect x="494.0" y="127.0" width="4.8" height="22.0" fill="#808080" />
<rect x="494.0" y="154.0" width="4.8" height="57.0" fill="#808080" />
<rect x="435.0" y="127.0" width="5.0" height="22.0" fill="#808080" />
<rect x="435.0" y="154.0" width="5.0" height="58.5" fill="#808080" />
<rect x="462.8" y="154.0" width="4.8" height="126.0" fill="#808080" />
<rect x="540.3" y="154.0" width="4.7" height="57.0" fill="#808080" />
<rect x="586.4" y="120.0" width="4.8" height="29.0" fill="#808080" />
<rect x="644.7" y="154.0" width="4.8" height="58.5" fill="#808080" />
<rect x="692.7" y="125.0" width="4.8" height="24.0" fill="#808080" />
<rect x="692.7" y="154.0" width="4.8" height="59.5" fill="#808080" />
<rect x="741.9" y="126.0" width="4.8" height="87.5" fill="#808080" />
<rect x="427.0" y="172.4" width="9.0" height="3.6" fill="#808080" />
<rect x="427.0" y="111.3" width="95.3" height="10.2" fill="url(#ms)" />
<rect x="432.4" y="103.0" width="12.0" height="25.0" fill="url(#ml)" rx="2"/>
<rect x="456.0" y="108.0" width="9.0" height="16.0" fill="url(#ml)" rx="2"/>
<rect x="475.5" y="108.0" width="7.2" height="16.0" fill="url(#ml)" rx="2"/>
<rect x="490.0" y="103.0" width="10.7" height="25.0" fill="url(#ml)" rx="2"/>
<rect x="509.0" y="108.0" width="8.5" height="16.0" fill="url(#ml)" rx="2"/>
<path d="M525,77H533.4V90.5L535.5,92.6H540.6V100.6H529.9V81.6H525Z" fill="#a0a0a0"/>
<path d="M560.3,77H552.6V90.5L550.5,92.6H547V100.6H556.1V81.6H560.3Z" fill="#a0a0a0"/>
<rect x="533.4" y="77.0" width="19.2" height="13.5" fill="#101010" />
<rect x="535.5" y="90.5" width="15.0" height="2.1" fill="#101010" />
<rect x="541.4" y="81.9" width="5.1" height="32.1" fill="url(#mh)" />
<rect x="536.5" y="113.3" width="15.0" height="9.7" fill="url(#mh)" />
<rect x="538.8" y="122.5" width="9.2" height="14.7" fill="url(#mh)" rx="2"/>
<rect x="563.0" y="107.5" width="23.0" height="11.0" fill="url(#ms)" />
<rect x="585.0" y="102.0" width="8.6" height="22.0" fill="url(#ml)" rx="2"/>
<rect x="653.5" y="109.5" width="95.9" height="10.5" fill="url(#ms)" />
<rect x="658.7" y="106.5" width="7.3" height="16.5" fill="url(#ml)" rx="2"/>
<rect x="674.5" y="106.5" width="8.5" height="16.5" fill="url(#ml)" rx="2"/>
<rect x="689.3" y="103.0" width="8.4" height="23.4" fill="url(#ml)" rx="2"/>
<rect x="706.0" y="106.5" width="8.0" height="16.5" fill="url(#ml)" rx="2"/>
<rect x="722.0" y="106.5" width="8.0" height="16.5" fill="url(#ml)" rx="2"/>
<rect x="739.0" y="103.0" width="10.4" height="23.4" fill="url(#ml)" rx="2"/>
<rect x="598.9" y="55.6" width="47.1" height="74.0" fill="#9a9a9a" />
<rect x="609.0" y="65.1" width="25.8" height="11.0" fill="#000" rx="2"/>
<line x1="613.0" y1="74.0" x2="618.0" y2="69.5" stroke="#8a8a8a" stroke-width="1.2" />
<line x1="618.0" y1="69.5" x2="621.0" y2="71.0" stroke="#8a8a8a" stroke-width="1.2" />
<line x1="621.0" y1="73.5" x2="626.0" y2="68.5" stroke="#8a8a8a" stroke-width="1.2" />
<line x1="626.0" y1="68.5" x2="628.0" y2="72.0" stroke="#8a8a8a" stroke-width="1.2" />
<line x1="628.0" y1="72.0" x2="631.5" y2="68.0" stroke="#8a8a8a" stroke-width="1.2" />
<line x1="616.0" y1="75.5" x2="619.0" y2="72.0" stroke="#8a8a8a" stroke-width="1.2" />
<rect x="598.9" y="68.0" width="5.1" height="1.6" fill="#c6c6c6" />
<rect x="598.9" y="69.6" width="5.1" height="1.6" fill="#4a4a4a" />
<rect x="598.9" y="71.2" width="5.1" height="1.4" fill="#c6c6c6" />
<rect x="640.0" y="68.0" width="6.0" height="1.6" fill="#c6c6c6" />
<rect x="640.0" y="69.6" width="6.0" height="1.6" fill="#4a4a4a" />
<rect x="640.0" y="71.2" width="6.0" height="1.4" fill="#c6c6c6" />
<rect x="639.5" y="60.0" width="1.0" height="3.0" fill="#d0d0d0" />
<rect x="612.4" y="76.1" width="1.6" height="7.5" fill="#111" />
<rect x="621.5" y="76.1" width="3.0" height="7.5" fill="#111" />
<rect x="630.3" y="76.1" width="1.8" height="7.5" fill="#111" />
<rect x="600.0" y="84.2" width="4.6" height="13.4" fill="#0a0a0a" />
<rect x="639.2" y="84.2" width="4.8" height="13.4" fill="#0a0a0a" />
<rect x="604.6" y="87.9" width="34.6" height="7.3" fill="#0a0a0a" />
<path d="M605.8,129.6V118H609V111.7H612.2V106.4H615.3V99H616.4V129.6Z" fill="#000"/>
<path d="M639.6,129.6V118H636.5V111.7H633.3V106.4H630.2V99H629V129.6Z" fill="#000"/>
<rect x="611.5" y="97.6" width="22.0" height="1.6" fill="#000" />
<rect x="616.6" y="99.0" width="12.0" height="91.0" fill="#8e8e8e" />
<rect x="619.6" y="99.0" width="1.0" height="91.0" fill="#4a4a4a" />
<rect x="625.0" y="99.0" width="1.0" height="91.0" fill="#4a4a4a" />
<rect x="620.6" y="99.0" width="4.4" height="91.0" fill="#a4a4a4" />
<rect x="644.3" y="31.0" width="93.2" height="11.6" fill="#808080" />
<rect x="663.5" y="42.6" width="5.1" height="52.1" fill="#808080" />
<rect x="663.5" y="89.6" width="32.5" height="5.1" fill="#808080" />
<rect x="691.4" y="89.6" width="4.8" height="14.4" fill="#808080" />
<circle cx="699.6" cy="35.6" r="6.1" fill="#989898"/>
<path d="M694.5,36.5L688,39.2L688.6,41.6L696,40.8Z" fill="#8f8f8f"/>
<path d="M705,33.5L712,31.5L712,35.5L705.5,38Z" fill="#8a8a8a"/>
<rect x="687.6" y="41.6" width="1.7" height="35.4" fill="#e2e2e2" />
<path d="M688.4,71.5L692.3,79.5H684.5Z" fill="#bdbdbd"/>
<rect x="681.5" y="79.2" width="14.1" height="3.2" fill="url(#mvh)" />
<line x1="678.0" y1="47.0" x2="697.0" y2="47.0" stroke="#6a6a6a" stroke-width="1.2" />
<line x1="674.5" y1="60.5" x2="702.5" y2="60.5" stroke="#707070" stroke-width="1.2" />
<line x1="680.0" y1="48.0" x2="685.0" y2="55.0" stroke="#565656" stroke-width="1.1" />
<line x1="685.0" y1="48.0" x2="680.0" y2="55.0" stroke="#565656" stroke-width="1.1" />
<line x1="692.0" y1="48.0" x2="697.0" y2="55.0" stroke="#565656" stroke-width="1.1" />
<line x1="697.0" y1="48.0" x2="692.0" y2="55.0" stroke="#565656" stroke-width="1.1" />
<line x1="681.0" y1="55.5" x2="684.0" y2="60.0" stroke="#565656" stroke-width="1.1" />
<line x1="696.0" y1="55.5" x2="693.0" y2="60.0" stroke="#565656" stroke-width="1.1" />
<line x1="683.0" y1="61.0" x2="685.5" y2="65.5" stroke="#565656" stroke-width="1.1" />
<line x1="697.5" y1="61.0" x2="699.5" y2="65.5" stroke="#565656" stroke-width="1.1" />
<rect x="706.0" y="83.0" width="9.6" height="23.4" fill="#8a8a8a" />
<path d="M707,31.5H716.5L714,36.5H709.5Z" fill="#9c9c9c"/>
<rect x="710.3" y="29.0" width="2.8" height="67.5" fill="#ececec" rx="1.2"/>
<rect x="710.4" y="26.8" width="2.6" height="3.7" fill="#a8a8a8" rx="1"/>
<line x1="717.0" y1="56.0" x2="719.0" y2="60.0" stroke="#4a4a4a" stroke-width="1" />
<line x1="719.5" y1="62.0" x2="717.5" y2="66.0" stroke="#4a4a4a" stroke-width="1" />
<line x1="721.0" y1="68.0" x2="723.0" y2="72.0" stroke="#4a4a4a" stroke-width="1" />
<line x1="716.0" y1="49.0" x2="718.0" y2="52.0" stroke="#4a4a4a" stroke-width="1" />
<line x1="722.0" y1="58.0" x2="724.0" y2="61.0" stroke="#4a4a4a" stroke-width="1" />
<line x1="430.5" y1="151.2" x2="439.5" y2="151.2" stroke="#f2f2f2" stroke-width="1.1" />
<path d="M434.5,149.6L438.0,151.2L434.5,152.8Z" fill="#f2f2f2"/>
<line x1="444.5" y1="151.2" x2="453.5" y2="151.2" stroke="#f2f2f2" stroke-width="1.1" />
<path d="M448.5,149.6L452.0,151.2L448.5,152.8Z" fill="#f2f2f2"/>
<line x1="475.5" y1="151.2" x2="484.5" y2="151.2" stroke="#f2f2f2" stroke-width="1.1" />
<path d="M479.5,149.6L483.0,151.2L479.5,152.8Z" fill="#f2f2f2"/>
<line x1="496.2" y1="151.2" x2="505.2" y2="151.2" stroke="#f2f2f2" stroke-width="1.1" />
<path d="M500.2,149.6L503.7,151.2L500.2,152.8Z" fill="#f2f2f2"/>
<line x1="515.5" y1="151.2" x2="524.5" y2="151.2" stroke="#f2f2f2" stroke-width="1.1" />
<path d="M519.5,149.6L523.0,151.2L519.5,152.8Z" fill="#f2f2f2"/>
<line x1="535.5" y1="151.2" x2="544.5" y2="151.2" stroke="#f2f2f2" stroke-width="1.1" />
<path d="M539.5,149.6L543.0,151.2L539.5,152.8Z" fill="#f2f2f2"/>
<line x1="555.0" y1="151.2" x2="564.0" y2="151.2" stroke="#f2f2f2" stroke-width="1.1" />
<path d="M559.0,149.6L562.5,151.2L559.0,152.8Z" fill="#f2f2f2"/>
<line x1="576.5" y1="151.2" x2="585.5" y2="151.2" stroke="#f2f2f2" stroke-width="1.1" />
<path d="M580.5,149.6L584.0,151.2L580.5,152.8Z" fill="#f2f2f2"/>
<line x1="593.5" y1="151.2" x2="602.5" y2="151.2" stroke="#f2f2f2" stroke-width="1.1" />
<path d="M597.5,149.6L601.0,151.2L597.5,152.8Z" fill="#f2f2f2"/>
<line x1="635.5" y1="151.2" x2="644.5" y2="151.2" stroke="#f2f2f2" stroke-width="1.1" />
<path d="M639.5,149.6L643.0,151.2L639.5,152.8Z" fill="#f2f2f2"/>
<line x1="657.0" y1="151.2" x2="666.0" y2="151.2" stroke="#f2f2f2" stroke-width="1.1" />
<path d="M661.0,149.6L664.5,151.2L661.0,152.8Z" fill="#f2f2f2"/>
<line x1="677.5" y1="151.2" x2="686.5" y2="151.2" stroke="#f2f2f2" stroke-width="1.1" />
<path d="M681.5,149.6L685.0,151.2L681.5,152.8Z" fill="#f2f2f2"/>
<line x1="697.5" y1="151.2" x2="706.5" y2="151.2" stroke="#f2f2f2" stroke-width="1.1" />
<path d="M701.5,149.6L705.0,151.2L701.5,152.8Z" fill="#f2f2f2"/>
<line x1="717.0" y1="151.2" x2="726.0" y2="151.2" stroke="#f2f2f2" stroke-width="1.1" />
<path d="M721.0,149.6L724.5,151.2L721.0,152.8Z" fill="#f2f2f2"/>
<line x1="647.2" y1="164.0" x2="647.2" y2="178.0" stroke="#f2f2f2" stroke-width="1.2" />
<path d="M645.6,174.0L647.2,178.0L648.8,174.0Z" fill="#f2f2f2"/>
<line x1="695.1" y1="166.4" x2="695.1" y2="180.4" stroke="#f2f2f2" stroke-width="1.2" />
<path d="M693.5,176.4L695.1,180.4L696.7,176.4Z" fill="#f2f2f2"/>
<line x1="744.3" y1="168.9" x2="744.3" y2="182.9" stroke="#f2f2f2" stroke-width="1.2" />
<path d="M742.7,178.9L744.3,182.9L745.9,178.9Z" fill="#f2f2f2"/>
<line x1="744.3" y1="132.0" x2="744.3" y2="144.0" stroke="#f2f2f2" stroke-width="1.2" />
<path d="M742.7,136.0L744.3,132.0L745.9,136.0Z" fill="#f2f2f2"/>
<line x1="589.0" y1="130.0" x2="589.0" y2="142.0" stroke="#f2f2f2" stroke-width="1.2" />
<path d="M587.4,134.0L589.0,130.0L590.6,134.0Z" fill="#f2f2f2"/>
<line x1="496.4" y1="88.8" x2="496.4" y2="93.2" stroke="#f2f2f2" stroke-width="1.1" />
<line x1="494.6" y1="93.2" x2="498.2" y2="93.2" stroke="#f2f2f2" stroke-width="1.1" />
<line x1="496.4" y1="134.8" x2="496.4" y2="139.2" stroke="#f2f2f2" stroke-width="1.1" />
<line x1="494.6" y1="139.2" x2="498.2" y2="139.2" stroke="#f2f2f2" stroke-width="1.1" />
<line x1="496.4" y1="165.8" x2="496.4" y2="170.2" stroke="#f2f2f2" stroke-width="1.1" />
<line x1="494.6" y1="165.8" x2="498.2" y2="165.8" stroke="#f2f2f2" stroke-width="1.1" />
<line x1="437.6" y1="131.3" x2="437.6" y2="135.7" stroke="#f2f2f2" stroke-width="1.1" />
<line x1="435.8" y1="135.7" x2="439.4" y2="135.7" stroke="#f2f2f2" stroke-width="1.1" />
<line x1="437.6" y1="172.4" x2="437.6" y2="176.8" stroke="#f2f2f2" stroke-width="1.1" />
<line x1="435.8" y1="172.4" x2="439.4" y2="172.4" stroke="#f2f2f2" stroke-width="1.1" />
<line x1="542.7" y1="163.8" x2="542.7" y2="168.2" stroke="#f2f2f2" stroke-width="1.1" />
<line x1="540.9" y1="163.8" x2="544.5" y2="163.8" stroke="#f2f2f2" stroke-width="1.1" />
<line x1="465.2" y1="169.8" x2="465.2" y2="174.2" stroke="#f2f2f2" stroke-width="1.1" />
<line x1="463.4" y1="169.8" x2="467.0" y2="169.8" stroke="#f2f2f2" stroke-width="1.1" />
<line x1="656.0" y1="36.8" x2="664.0" y2="36.8" stroke="#f2f2f2" stroke-width="1.1" />
<path d="M659.0,35L655.5,36.8L659.0,38.6Z" fill="#f2f2f2"/>
<path d="M661.0,35L664.5,36.8L661.0,38.6Z" fill="#f2f2f2"/>
<line x1="668.0" y1="36.8" x2="676.0" y2="36.8" stroke="#f2f2f2" stroke-width="1.1" />
<path d="M671.0,35L667.5,36.8L671.0,38.6Z" fill="#f2f2f2"/>
<path d="M673.0,35L676.5,36.8L673.0,38.6Z" fill="#f2f2f2"/>
<line x1="717.0" y1="36.8" x2="725.0" y2="36.8" stroke="#f2f2f2" stroke-width="1.1" />
<path d="M720.0,35L716.5,36.8L720.0,38.6Z" fill="#f2f2f2"/>
<path d="M722.0,35L725.5,36.8L722.0,38.6Z" fill="#f2f2f2"/>
<line x1="666.0" y1="75.0" x2="666.0" y2="86.0" stroke="#f2f2f2" stroke-width="1.2" />
<path d="M664.4,82.0L666.0,86.0L667.6,82.0Z" fill="#f2f2f2"/>
<line x1="679.0" y1="92.2" x2="688.0" y2="92.2" stroke="#f2f2f2" stroke-width="1.1" />
<path d="M683,90.4L679,92.2L683,94Z" fill="#f2f2f2"/>
<line x1="693.8" y1="96.0" x2="693.8" y2="103.0" stroke="#f2f2f2" stroke-width="1.2" />
<path d="M692.2,99.0L693.8,103.0L695.4,99.0Z" fill="#f2f2f2"/>
<rect x="426.9" y="212.0" width="21.1" height="22.7" fill="url(#mv)" />
<rect x="451.6" y="227.5" width="7.2" height="14.5" fill="url(#mv)" />
<rect x="472.0" y="227.5" width="10.7" height="14.5" fill="url(#mv)" />
<rect x="486.3" y="211.0" width="19.2" height="21.0" fill="url(#mv)" />
<rect x="509.0" y="225.6" width="21.7" height="15.1" fill="url(#mv)" />
<rect x="534.8" y="211.0" width="21.1" height="21.0" fill="url(#mv)" />
<rect x="558.8" y="201.9" width="21.5" height="16.7" fill="url(#mv)" />
<rect x="583.8" y="210.6" width="24.5" height="22.4" fill="url(#mv)" />
<rect x="637.0" y="212.3" width="22.0" height="20.7" fill="url(#mv)" />
<rect x="661.9" y="227.3" width="20.4" height="16.3" fill="url(#mv)" />
<rect x="685.4" y="213.0" width="20.6" height="20.0" fill="url(#mv)" />
<rect x="709.5" y="227.3" width="21.5" height="16.5" fill="url(#mv)" />
<rect x="734.7" y="213.8" width="21.6" height="23.2" fill="url(#mv)" />
<path d="M617,186H628.4V187.3L632.2,193.3V199H613.2V193.3L617,187.3Z" fill="#8e8e8e"/>
<rect x="619.6" y="186.0" width="1.0" height="4.0" fill="#4a4a4a" />
<rect x="625.0" y="186.0" width="1.0" height="4.0" fill="#4a4a4a" />
<rect x="613.2" y="198.0" width="19.0" height="5.0" fill="#8e8e8e" />
<rect x="611.8" y="202.0" width="22.4" height="15.5" fill="url(#mv)" />
<path d="M614,217.5H631.8V226.5Q631.8,229 627,231H619Q614,229 614,226.5Z" fill="#909090"/>
<rect x="447.5" y="208.0" width="4.1" height="40.0" fill="url(#mw)" />
<rect x="482.7" y="206.0" width="3.6" height="42.0" fill="url(#mw)" />
<rect x="505.5" y="206.0" width="3.5" height="42.0" fill="url(#mw)" />
<rect x="530.7" y="206.0" width="4.1" height="42.0" fill="url(#mw)" />
<rect x="555.4" y="196.4" width="3.4" height="38.6" fill="url(#mw)" />
<rect x="580.2" y="196.0" width="3.6" height="39.6" fill="url(#mw)" />
<rect x="608.3" y="195.9" width="3.5" height="39.7" fill="url(#mw)" />
<rect x="633.9" y="196.8" width="3.3" height="38.8" fill="url(#mw)" />
<rect x="658.4" y="206.3" width="3.5" height="42.7" fill="url(#mw)" />
<rect x="681.9" y="207.0" width="3.5" height="42.0" fill="url(#mw)" />
<rect x="706.0" y="206.3" width="3.5" height="42.7" fill="url(#mw)" />
<rect x="731.0" y="207.0" width="3.7" height="42.0" fill="url(#mw)" />
<rect x="755.6" y="208.0" width="3.0" height="37.0" fill="url(#mw)" />
<rect x="427.0" y="231.0" width="3.7" height="141.0" fill="#808080" />
<rect x="427.0" y="231.0" width="20.0" height="2.6" fill="#808080" />
<path d="M430.7,354.3H790L786.5,362.8H706L662.3,380H440Q430.7,380 430.7,370Z" fill="#6e6e6e"/>
<path d="M427,360V370Q427,383.3 440,383.3H663L706.5,366.3H783.5L785,362.8H706L662.3,380H440Q430.7,380 430.7,370V360Z" fill="#8c8c8c"/>
<path d="M782.3,366.3L801.3,332.8" stroke="#8c8c8c" stroke-width="3.8" stroke-linecap="round" fill="none"/>
<line x1="432.0" y1="362.0" x2="444.0" y2="362.0" stroke="#f0f0f0" stroke-width="1.1" />
<line x1="450.0" y1="362.0" x2="466.0" y2="362.0" stroke="#f0f0f0" stroke-width="1.1" />
<line x1="496.0" y1="362.0" x2="509.0" y2="362.0" stroke="#f0f0f0" stroke-width="1.1" />
<line x1="517.0" y1="362.0" x2="530.0" y2="362.0" stroke="#f0f0f0" stroke-width="1.1" />
<line x1="540.0" y1="362.0" x2="551.0" y2="362.0" stroke="#f0f0f0" stroke-width="1.1" />
<line x1="582.0" y1="362.0" x2="594.0" y2="362.0" stroke="#f0f0f0" stroke-width="1.1" />
<line x1="600.0" y1="362.0" x2="607.0" y2="362.0" stroke="#f0f0f0" stroke-width="1.1" />
<line x1="668.0" y1="368.0" x2="681.5" y2="368.0" stroke="#f0f0f0" stroke-width="1.1" />
<line x1="772.3" y1="357.5" x2="783.0" y2="357.5" stroke="#f0f0f0" stroke-width="1.1" />
<line x1="435.0" y1="372.8" x2="448.0" y2="372.8" stroke="#f0f0f0" stroke-width="1.1" />
<line x1="455.0" y1="372.8" x2="468.0" y2="372.8" stroke="#f0f0f0" stroke-width="1.1" />
<line x1="502.0" y1="372.8" x2="513.0" y2="372.8" stroke="#f0f0f0" stroke-width="1.1" />
<line x1="520.0" y1="372.8" x2="533.0" y2="372.8" stroke="#f0f0f0" stroke-width="1.1" />
<line x1="543.5" y1="373.5" x2="558.0" y2="373.5" stroke="#f0f0f0" stroke-width="1.1" />
<line x1="589.0" y1="373.5" x2="597.5" y2="373.5" stroke="#f0f0f0" stroke-width="1.1" />
<line x1="608.0" y1="373.5" x2="620.0" y2="373.5" stroke="#f0f0f0" stroke-width="1.1" />
<line x1="626.0" y1="373.5" x2="638.0" y2="373.5" stroke="#f0f0f0" stroke-width="1.1" />
<line x1="645.5" y1="373.5" x2="658.5" y2="373.5" stroke="#f0f0f0" stroke-width="1.1" />
<rect x="462.8" y="273.0" width="153.7" height="7.2" fill="#808080" />
<rect x="489.5" y="256.4" width="4.8" height="17.6" fill="#808080" />
<rect x="489.5" y="256.4" width="47.9" height="4.6" fill="#808080" />
<rect x="532.6" y="256.4" width="4.8" height="17.6" fill="#808080" />
<rect x="506.8" y="272.7" width="14.2" height="27.3" fill="url(#mh)" rx="1.5"/>
<rect x="508.0" y="300.0" width="11.8" height="2.5" fill="#4a4a4a" />
<rect x="554.0" y="240.8" width="4.6" height="71.9" fill="#808080" />
<rect x="554.0" y="240.8" width="62.5" height="4.6" fill="#808080" />
<rect x="612.0" y="240.8" width="4.5" height="39.2" fill="#808080" />
<rect x="554.0" y="306.0" width="225.0" height="6.7" fill="#808080" />
<rect x="612.3" y="280.0" width="4.5" height="82.0" fill="#808080" />
<path d="M579.2,255 C586,255 590.4,260.5 590.4,267 C590.4,271.5 588.5,274.5 587,277 C588.5,279.5 590.4,283 590.4,287.5 C590.4,294 586,299.5 579.2,299.5 C572.4,299.5 568,294 568,287.5 C568,283 569.9,279.5 571.4,277 C569.9,274.5 568,271.5 568,267 C568,260.5 572.4,255 579.2,255Z" fill="#828282"/>
<ellipse cx="579.2" cy="267" rx="7.6" ry="8.4" fill="#8e8e8e" stroke="#707070" stroke-width="0.8"/>
<ellipse cx="579.2" cy="287.3" rx="7.6" ry="8.4" fill="#8e8e8e" stroke="#707070" stroke-width="0.8"/>
<path d="M609.5,361.5H619.5L624,371.5H604.7Z" fill="#b4b4b4"/>
<rect x="575.5" y="371.5" width="9.5" height="15.5" fill="#6a6a6a" />
<rect x="578.0" y="373.0" width="4.5" height="10.0" fill="#2a2a2a" />
<line x1="578.5" y1="375.0" x2="582.0" y2="376.2" stroke="#bdbdbd" stroke-width="0.9" />
<line x1="578.5" y1="378.0" x2="582.0" y2="379.2" stroke="#bdbdbd" stroke-width="0.9" />
<line x1="578.5" y1="381.0" x2="582.0" y2="382.2" stroke="#bdbdbd" stroke-width="0.9" />
<rect x="505.0" y="254.0" width="20.5" height="9.6" rx="3.5" fill="#0c0c0c" stroke="#8a8a8a" stroke-width="1.3"/>
<path d="M508.0,260.8L509.8,256.8L511.6,260.8L513.4,256.8L515.2,260.8L517.1,256.8L518.9,260.8L520.7,256.8L522.5,260.8" fill="none" stroke="#d8d8d8" stroke-width="1"/>
<rect x="570.3" y="240.0" width="19.2" height="8.7" rx="3.5" fill="#0c0c0c" stroke="#8a8a8a" stroke-width="1.3"/>
<path d="M573.3,246.3L574.9,242.3L576.6,246.3L578.2,242.3L579.9,246.3L581.5,242.3L583.2,246.3L584.9,242.3L586.5,246.3" fill="none" stroke="#d8d8d8" stroke-width="1"/>
<rect x="648.7" y="304.8" width="20.3" height="9.6" rx="3.5" fill="#0c0c0c" stroke="#8a8a8a" stroke-width="1.3"/>
<path d="M651.7,311.6L653.5,307.6L655.3,311.6L657.1,307.6L658.9,311.6L660.6,307.6L662.4,311.6L664.2,307.6L666.0,311.6" fill="none" stroke="#d8d8d8" stroke-width="1"/>
<line x1="476.0" y1="276.6" x2="486.0" y2="276.6" stroke="#f4f4f4" stroke-width="1.6" />
<line x1="494.0" y1="276.6" x2="500.0" y2="276.6" stroke="#f4f4f4" stroke-width="1.6" />
<line x1="524.0" y1="276.6" x2="530.0" y2="276.6" stroke="#f4f4f4" stroke-width="1.6" />
<line x1="538.0" y1="276.6" x2="546.0" y2="276.6" stroke="#f4f4f4" stroke-width="1.6" />
<line x1="551.0" y1="276.6" x2="556.0" y2="276.6" stroke="#f4f4f4" stroke-width="1.6" />
<line x1="561.0" y1="276.6" x2="567.0" y2="276.6" stroke="#f4f4f4" stroke-width="1.6" />
<line x1="590.0" y1="276.6" x2="596.0" y2="276.6" stroke="#f4f4f4" stroke-width="1.6" />
<line x1="603.0" y1="276.6" x2="609.0" y2="276.6" stroke="#f4f4f4" stroke-width="1.6" />
<rect x="477.4" y="275.0" width="3.2" height="3.3" fill="#fafafa" />
<rect x="495.4" y="275.0" width="3.2" height="3.3" fill="#fafafa" />
<rect x="525.4" y="275.0" width="3.2" height="3.3" fill="#fafafa" />
<rect x="539.4" y="275.0" width="3.2" height="3.3" fill="#fafafa" />
<rect x="551.9" y="275.0" width="3.2" height="3.3" fill="#fafafa" />
<rect x="562.4" y="275.0" width="3.2" height="3.3" fill="#fafafa" />
<rect x="591.4" y="275.0" width="3.2" height="3.3" fill="#fafafa" />
<rect x="604.4" y="275.0" width="3.2" height="3.3" fill="#fafafa" />
<line x1="465.2" y1="160.0" x2="465.2" y2="168.0" stroke="#e8e8e8" stroke-width="1.2" />
<line x1="465.2" y1="176.0" x2="465.2" y2="183.0" stroke="#e8e8e8" stroke-width="1.2" />
<line x1="465.2" y1="192.0" x2="465.2" y2="199.0" stroke="#e8e8e8" stroke-width="1.2" />
<line x1="465.2" y1="207.0" x2="465.2" y2="214.0" stroke="#e8e8e8" stroke-width="1.2" />
<line x1="465.2" y1="222.0" x2="465.2" y2="229.0" stroke="#e8e8e8" stroke-width="1.2" />
<line x1="465.2" y1="237.0" x2="465.2" y2="244.0" stroke="#e8e8e8" stroke-width="1.2" />
<line x1="465.2" y1="252.0" x2="465.2" y2="259.0" stroke="#e8e8e8" stroke-width="1.2" />
<line x1="465.2" y1="264.0" x2="465.2" y2="270.0" stroke="#e8e8e8" stroke-width="1.2" />
<line x1="614.5" y1="284.0" x2="614.5" y2="292.0" stroke="#f0f0f0" stroke-width="1.3" />
<line x1="614.5" y1="298.0" x2="614.5" y2="305.0" stroke="#f0f0f0" stroke-width="1.3" />
<line x1="614.5" y1="316.0" x2="614.5" y2="324.0" stroke="#f0f0f0" stroke-width="1.3" />
<line x1="614.5" y1="330.0" x2="614.5" y2="338.0" stroke="#f0f0f0" stroke-width="1.3" />
<line x1="614.5" y1="344.0" x2="614.5" y2="352.0" stroke="#f0f0f0" stroke-width="1.3" />
<path d="M699,260L703.5,260L706,263.5H712.5L715,260H719.5L715.5,266H714.8V273H705V266H703Z" fill="#a8a8a8"/>
<path d="M694.4,303V277Q694.4,274.4 697,274.4H721.7Q724.3,274.4 724.3,277V303" fill="none" stroke="#b0b0b0" stroke-width="1.4"/>
<rect x="698.0" y="281.5" width="22.7" height="9.0" fill="url(#mh)" />
<rect x="708.3" y="290.5" width="5.2" height="15.5" fill="#a0a0a0" />
<path d="M699.5,292L703.5,292L701.5,297Z" fill="#9a9a9a"/><path d="M716,292L720,292L718,297Z" fill="#9a9a9a"/>
<rect x="692.0" y="302.6" width="33.5" height="3.4" fill="#8a8a8a" />
<rect x="692.0" y="312.7" width="35.5" height="14.3" fill="url(#mh)" />
<line x1="687.0" y1="320.0" x2="684.0" y2="327.0" stroke="#8a8a8a" stroke-width="1" />
<line x1="691.0" y1="321.0" x2="688.0" y2="329.0" stroke="#8a8a8a" stroke-width="1" />
<line x1="695.0" y1="320.0" x2="692.0" y2="328.0" stroke="#8a8a8a" stroke-width="1" />
<line x1="699.0" y1="320.0" x2="697.0" y2="326.0" stroke="#8a8a8a" stroke-width="1" />
<line x1="690.0" y1="331.0" x2="687.0" y2="339.0" stroke="#8a8a8a" stroke-width="1" />
<line x1="695.0" y1="332.0" x2="692.0" y2="340.0" stroke="#8a8a8a" stroke-width="1" />
<line x1="700.0" y1="332.0" x2="698.0" y2="339.0" stroke="#8a8a8a" stroke-width="1" />
<line x1="693.0" y1="342.0" x2="691.0" y2="347.0" stroke="#8a8a8a" stroke-width="1" />
<line x1="698.0" y1="342.0" x2="696.0" y2="347.0" stroke="#8a8a8a" stroke-width="1" />
<line x1="686.0" y1="331.0" x2="684.0" y2="336.0" stroke="#8a8a8a" stroke-width="1" />
<rect x="696.0" y="318.0" width="7.0" height="2.5" fill="#1a1a1a" />
<path d="M737.5,294H746.6V295.6H742.9V304H746L742.1,311.5L738.2,304H741.3V295.6H737.5Z" fill="#3c3c3c"/>
<rect x="751.0" y="312.7" width="5.7" height="42.3" fill="#808080" />
<rect x="750.2" y="318.7" width="7.4" height="21.6" rx="3" fill="#1c1c1c" stroke="#8a8a8a" stroke-width="1.2"/>
<path d="M752,322L756,326L752,330L756,334L752,338" fill="none" stroke="#9a9a9a" stroke-width="0.9"/>
<circle cx="754" cy="321.5" r="1.3" fill="#ddd"/>
<line x1="769.6" y1="109.6" x2="709.5" y2="151.0" stroke="#d8d8d8" stroke-width="1" />
<line x1="765.9" y1="193.0" x2="587.5" y2="275.5" stroke="#d8d8d8" stroke-width="1" />
<line x1="421.0" y1="280.4" x2="513.5" y2="292.8" stroke="#d8d8d8" stroke-width="1" />
<line x1="417.5" y1="320.6" x2="608.0" y2="365.5" stroke="#d8d8d8" stroke-width="1" />
<line x1="417.5" y1="357.6" x2="492.0" y2="381.0" stroke="#d8d8d8" stroke-width="1" />
<line x1="760.3" y1="275.0" x2="720.7" y2="282.3" stroke="#d8d8d8" stroke-width="1" />
<text class="lb" transform="translate(772.6,116) scale(1,1.18)">主油道</text>
<text class="lb" transform="translate(767.8,196.6) scale(1,1.18)">机油泵</text>
<text class="lb" transform="translate(362.4,288.4) scale(1,1.18)">粗滤器</text>
<text class="lb" transform="translate(360.4,328) scale(1,1.18)">集滤器</text>
<text class="lb" transform="translate(360.4,367) scale(1,1.18)">机油盘</text>
<text class="lb" transform="translate(770.4,283) scale(1,1.18)">细滤器</text>
</g>
<g transform="translate(0,429.2) scale(1,0.969)"><text class="t1" x="350.4" y="0">机器的血液出了问题<tspan x="624.4">，</tspan><tspan x="650.4">机器会怎样呢</tspan><tspan x="833.6">？</tspan></text></g>
<text x="847.2" y="36.5" style="font-family:'Liberation Serif',serif;font-size:17px;fill:#000">'</text>
<text class="t2" x="33.6" y="499.7" xml:space="preserve">圣经 17 章：活物的生命是在血液中</text>
<text class="t2" x="483.9" y="499.7">现代润滑观点：设备的生命是在润滑油中！</text>
</svg>
</body></html>
